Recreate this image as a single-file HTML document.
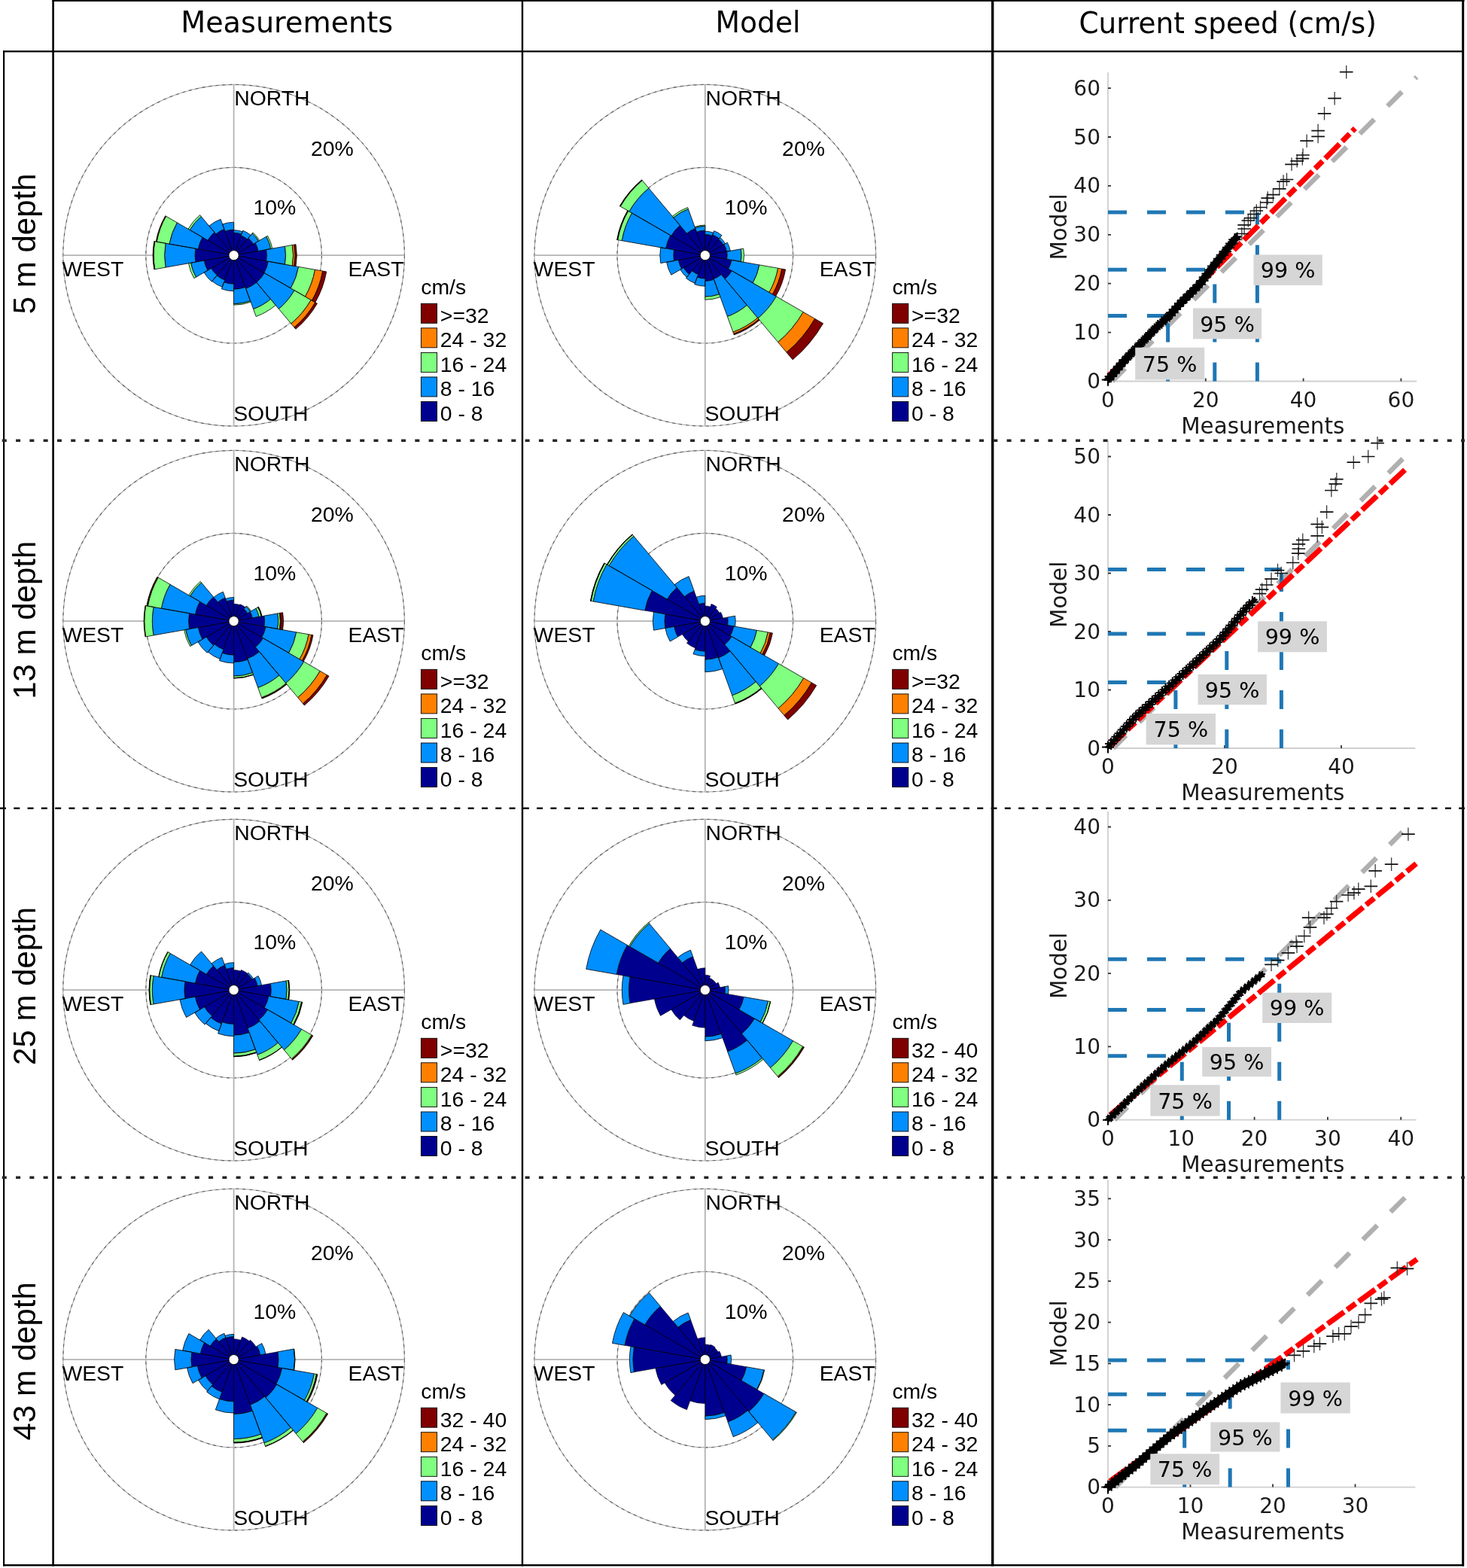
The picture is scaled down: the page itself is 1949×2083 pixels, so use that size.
<!DOCTYPE html>
<html><head><meta charset="utf-8"><title>Current roses and QQ plots</title>
<style>html,body{margin:0;padding:0;background:#fff;}svg{display:block;}</style></head><body>
<svg xmlns="http://www.w3.org/2000/svg" width="1949" height="2083" viewBox="0 0 1949 2083">
<rect width="1949" height="2083" fill="#fff"/>
<circle cx="310.6" cy="339.2" r="226.8" fill="none" stroke="#a6a6a6" stroke-width="1.1"/>
<circle cx="310.6" cy="339.2" r="226.8" fill="none" stroke="#5e5e5e" stroke-width="1.1" stroke-dasharray="4 5"/>
<circle cx="310.6" cy="339.2" r="116.8" fill="none" stroke="#a6a6a6" stroke-width="1.1"/>
<circle cx="310.6" cy="339.2" r="116.8" fill="none" stroke="#5e5e5e" stroke-width="1.1" stroke-dasharray="4 5"/>
<path d="M310.6 112.39999999999998V566.0M83.80000000000001 339.2H537.4000000000001" stroke="#b4b4b4" stroke-width="1.8" fill="none"/>
<path d="M310.60 339.20L310.60 309.20A30.00 30.00 0 0 1 320.86 311.01ZM310.60 339.20L320.18 312.89A28.00 28.00 0 0 1 328.60 317.75ZM310.60 339.20L329.88 316.22A30.00 30.00 0 0 1 336.58 324.20ZM310.60 339.20L339.18 322.70A33.00 33.00 0 0 1 343.10 333.47ZM310.60 339.20L353.73 331.59A43.80 43.80 0 0 1 353.73 346.81ZM310.60 339.20L356.39 347.27A46.50 46.50 0 0 1 350.87 362.45ZM310.60 339.20L351.30 362.70A47.00 47.00 0 0 1 340.81 375.20ZM310.60 339.20L340.81 375.20A47.00 47.00 0 0 1 326.67 383.37ZM310.60 339.20L325.99 381.49A45.00 45.00 0 0 1 310.60 384.20ZM310.60 339.20L310.60 377.20A38.00 38.00 0 0 1 297.60 374.91ZM310.60 339.20L298.63 372.09A35.00 35.00 0 0 1 288.10 366.01ZM310.60 339.20L288.36 365.71A34.60 34.60 0 0 1 280.64 356.50ZM310.60 339.20L275.96 359.20A40.00 40.00 0 0 1 271.21 346.15ZM310.60 339.20L259.88 348.14A51.50 51.50 0 0 1 259.88 330.26ZM310.60 339.20L263.33 330.86A48.00 48.00 0 0 1 269.03 315.20ZM310.60 339.20L275.96 319.20A40.00 40.00 0 0 1 284.89 308.56ZM310.60 339.20L286.82 310.86A37.00 37.00 0 0 1 297.95 304.43ZM310.60 339.20L298.97 307.25A34.00 34.00 0 0 1 310.60 305.20Z" fill="#00008f" stroke="#000" stroke-width="0.55" stroke-linejoin="round"/>
<path d="M310.60 309.20L310.60 305.70A33.50 33.50 0 0 1 322.06 307.72L320.86 311.01A30.00 30.00 0 0 0 310.60 309.20ZM320.18 312.89L322.57 306.31A35.00 35.00 0 0 1 333.10 312.39L328.60 317.75A28.00 28.00 0 0 0 320.18 312.89ZM329.88 316.22L335.03 310.09A38.00 38.00 0 0 1 343.51 320.20L336.58 324.20A30.00 30.00 0 0 0 329.88 316.22ZM339.18 322.70L353.90 314.20A50.00 50.00 0 0 1 359.84 330.52L343.10 333.47A33.00 33.00 0 0 0 339.18 322.70ZM353.73 331.59L378.55 327.22A69.00 69.00 0 0 1 378.55 351.18L353.73 346.81A43.80 43.80 0 0 0 353.73 331.59ZM356.39 347.27L396.67 354.38A87.40 87.40 0 0 1 386.29 382.90L350.87 362.45A46.50 46.50 0 0 0 356.39 347.27ZM351.30 362.70L391.14 385.70A93.00 93.00 0 0 1 370.38 410.44L340.81 375.20A47.00 47.00 0 0 0 351.30 362.70ZM340.81 375.20L359.45 397.42A76.00 76.00 0 0 1 336.59 410.62L326.67 383.37A47.00 47.00 0 0 0 340.81 375.20ZM325.99 381.49L332.66 399.81A64.50 64.50 0 0 1 310.60 403.70L310.60 384.20A45.00 45.00 0 0 0 325.99 381.49ZM310.60 377.20L310.60 386.70A47.50 47.50 0 0 1 294.35 383.84L297.60 374.91A38.00 38.00 0 0 0 310.60 377.20ZM298.63 372.09L295.28 381.30A44.80 44.80 0 0 1 281.80 373.52L288.10 366.01A35.00 35.00 0 0 0 298.63 372.09ZM288.36 365.71L281.29 374.13A45.60 45.60 0 0 1 271.11 362.00L280.64 356.50A34.60 34.60 0 0 0 288.36 365.71ZM275.96 359.20L260.37 368.20A58.00 58.00 0 0 1 253.48 349.27L271.21 346.15A40.00 40.00 0 0 0 275.96 359.20ZM259.88 348.14L220.00 355.18A92.00 92.00 0 0 1 220.00 323.22L259.88 330.26A51.50 51.50 0 0 0 259.88 348.14ZM263.33 330.86L224.92 324.09A87.00 87.00 0 0 1 235.26 295.70L269.03 315.20A48.00 48.00 0 0 0 263.33 330.86ZM275.96 319.20L252.14 305.45A67.50 67.50 0 0 1 267.21 287.49L284.89 308.56A40.00 40.00 0 0 0 275.96 319.20ZM286.82 310.86L277.82 300.13A51.00 51.00 0 0 1 293.16 291.28L297.95 304.43A37.00 37.00 0 0 0 286.82 310.86ZM298.97 307.25L295.55 297.85A44.00 44.00 0 0 1 310.60 295.20L310.60 305.20A34.00 34.00 0 0 0 298.97 307.25Z" fill="#008fff" stroke="#000" stroke-width="0.8" stroke-linejoin="round"/>
<path d="M335.03 310.09L335.99 308.94A39.50 39.50 0 0 1 344.81 319.45L343.51 320.20A38.00 38.00 0 0 0 335.03 310.09ZM353.90 314.20L355.63 313.20A52.00 52.00 0 0 1 361.81 330.17L359.84 330.52A50.00 50.00 0 0 0 353.90 314.20ZM378.55 327.22L388.40 325.48A79.00 79.00 0 0 1 388.40 352.92L378.55 351.18A69.00 69.00 0 0 0 378.55 327.22ZM396.67 354.38L418.53 358.23A109.60 109.60 0 0 1 405.52 394.00L386.29 382.90A87.40 87.40 0 0 0 396.67 354.38ZM391.14 385.70L413.22 398.45A118.50 118.50 0 0 1 386.77 429.98L370.38 410.44A93.00 93.00 0 0 0 391.14 385.70ZM359.45 397.42L366.20 405.46A86.50 86.50 0 0 1 340.18 420.48L336.59 410.62A76.00 76.00 0 0 0 359.45 397.42ZM332.66 399.81L333.17 401.22A66.00 66.00 0 0 1 310.60 405.20L310.60 403.70A64.50 64.50 0 0 0 332.66 399.81ZM260.37 368.20L257.77 369.70A61.00 61.00 0 0 1 250.53 349.79L253.48 349.27A58.00 58.00 0 0 0 260.37 368.20ZM220.00 355.18L205.72 357.69A106.50 106.50 0 0 1 205.72 320.71L220.00 323.22A92.00 92.00 0 0 0 220.00 355.18ZM224.92 324.09L208.18 321.14A104.00 104.00 0 0 1 220.53 287.20L235.26 295.70A87.00 87.00 0 0 0 224.92 324.09ZM252.14 305.45L249.98 304.20A70.00 70.00 0 0 1 265.60 285.58L267.21 287.49A67.50 67.50 0 0 0 252.14 305.45Z" fill="#80ff80" stroke="#000" stroke-width="0.8" stroke-linejoin="round"/>
<path d="M388.40 325.48L390.86 325.05A81.50 81.50 0 0 1 390.86 353.35L388.40 352.92A79.00 79.00 0 0 0 388.40 325.48ZM418.53 358.23L428.78 360.04A120.00 120.00 0 0 1 414.52 399.20L405.52 394.00A109.60 109.60 0 0 0 418.53 358.23ZM413.22 398.45L418.85 401.70A125.00 125.00 0 0 1 390.95 434.96L386.77 429.98A118.50 118.50 0 0 0 413.22 398.45Z" fill="#ff8000" stroke="#000" stroke-width="0.8" stroke-linejoin="round"/>
<path d="M390.86 325.05L393.03 324.67A83.70 83.70 0 0 1 393.03 353.73L390.86 353.35A81.50 81.50 0 0 0 390.86 325.05ZM428.78 360.04L433.70 360.91A125.00 125.00 0 0 1 418.85 401.70L414.52 399.20A120.00 120.00 0 0 0 428.78 360.04ZM418.85 401.70L421.45 403.20A128.00 128.00 0 0 1 392.88 437.25L390.95 434.96A125.00 125.00 0 0 0 418.85 401.70ZM205.72 357.69L204.73 357.87A107.50 107.50 0 0 1 204.73 320.53L205.72 320.71A106.50 106.50 0 0 0 205.72 357.69ZM208.18 321.14L207.20 320.97A105.00 105.00 0 0 1 219.67 286.70L220.53 287.20A104.00 104.00 0 0 0 208.18 321.14Z" fill="#800000" stroke="#000" stroke-width="0.8" stroke-linejoin="round"/>
<circle cx="310.6" cy="339.2" r="6.6" fill="#fff" stroke="#000" stroke-width="0.9"/>
<text x="311.2" y="140.3" font-family="Liberation Sans, Arial, sans-serif" font-size="28.4" fill="#000">NORTH</text>
<text x="310.2" y="559.4" font-family="Liberation Sans, Arial, sans-serif" font-size="28.4" fill="#000">SOUTH</text>
<text x="82.4" y="367.3" font-family="Liberation Sans, Arial, sans-serif" font-size="28.4" fill="#000">WEST</text>
<text x="462.5" y="367.2" font-family="Liberation Sans, Arial, sans-serif" font-size="28.4" fill="#000">EAST</text>
<text x="412.9" y="207.0" font-family="Liberation Sans, Arial, sans-serif" font-size="28.4" fill="#000">20%</text>
<text x="336.5" y="284.7" font-family="Liberation Sans, Arial, sans-serif" font-size="28.4" fill="#000">10%</text>
<text x="559.2" y="390.6" font-family="Liberation Sans, Arial, sans-serif" font-size="28.4" fill="#000">cm/s</text>
<rect x="559.4" y="403.3" width="21.2" height="26" fill="#800000" stroke="#000" stroke-width="0.9"/>
<text x="584.8" y="428.7" font-family="Liberation Sans, Arial, sans-serif" font-size="28.4" fill="#000">>=32</text>
<rect x="559.4" y="435.8" width="21.2" height="26" fill="#ff8000" stroke="#000" stroke-width="0.9"/>
<text x="584.8" y="461.2" font-family="Liberation Sans, Arial, sans-serif" font-size="28.4" fill="#000">24 - 32</text>
<rect x="559.4" y="468.4" width="21.2" height="26" fill="#80ff80" stroke="#000" stroke-width="0.9"/>
<text x="584.8" y="493.8" font-family="Liberation Sans, Arial, sans-serif" font-size="28.4" fill="#000">16 - 24</text>
<rect x="559.4" y="500.9" width="21.2" height="26" fill="#008fff" stroke="#000" stroke-width="0.9"/>
<text x="584.8" y="526.3" font-family="Liberation Sans, Arial, sans-serif" font-size="28.4" fill="#000">8 - 16</text>
<rect x="559.4" y="533.5" width="21.2" height="26" fill="#00008f" stroke="#000" stroke-width="0.9"/>
<text x="584.8" y="558.9" font-family="Liberation Sans, Arial, sans-serif" font-size="28.4" fill="#000">0 - 8</text>
<circle cx="310.6" cy="825.2" r="226.8" fill="none" stroke="#a6a6a6" stroke-width="1.1"/>
<circle cx="310.6" cy="825.2" r="226.8" fill="none" stroke="#5e5e5e" stroke-width="1.1" stroke-dasharray="4 5"/>
<circle cx="310.6" cy="825.2" r="116.8" fill="none" stroke="#a6a6a6" stroke-width="1.1"/>
<circle cx="310.6" cy="825.2" r="116.8" fill="none" stroke="#5e5e5e" stroke-width="1.1" stroke-dasharray="4 5"/>
<path d="M310.6 598.4000000000001V1052.0M83.80000000000001 825.2H537.4000000000001" stroke="#b4b4b4" stroke-width="1.8" fill="none"/>
<path d="M310.60 825.20L310.60 802.20A23.00 23.00 0 0 1 318.47 803.59ZM310.60 825.20L318.81 802.65A24.00 24.00 0 0 1 326.03 806.81ZM310.60 825.20L324.10 809.11A21.00 21.00 0 0 1 328.79 814.70ZM310.60 825.20L332.25 812.70A25.00 25.00 0 0 1 335.22 820.86ZM310.60 825.20L350.98 818.08A41.00 41.00 0 0 1 350.98 832.32ZM310.60 825.20L352.95 832.67A43.00 43.00 0 0 1 347.84 846.70ZM310.60 825.20L349.57 847.70A45.00 45.00 0 0 1 339.53 859.67ZM310.60 825.20L344.67 865.80A53.00 53.00 0 0 1 328.73 875.00ZM310.60 825.20L329.21 876.32A54.40 54.40 0 0 1 310.60 879.60ZM310.60 825.20L310.60 870.20A45.00 45.00 0 0 1 295.21 867.49ZM310.60 825.20L296.92 862.79A40.00 40.00 0 0 1 284.89 855.84ZM310.60 825.20L283.60 857.37A42.00 42.00 0 0 1 274.23 846.20ZM310.60 825.20L269.03 849.20A48.00 48.00 0 0 1 263.33 833.54ZM310.60 825.20L251.51 835.62A60.00 60.00 0 0 1 251.51 814.78ZM310.60 825.20L259.39 816.17A52.00 52.00 0 0 1 265.57 799.20ZM310.60 825.20L274.23 804.20A42.00 42.00 0 0 1 283.60 793.03ZM310.60 825.20L289.39 799.92A33.00 33.00 0 0 1 299.31 794.19ZM310.60 825.20L301.02 798.89A28.00 28.00 0 0 1 310.60 797.20Z" fill="#00008f" stroke="#000" stroke-width="0.55" stroke-linejoin="round"/>
<path d="M324.10 809.11L326.99 805.67A25.50 25.50 0 0 1 332.68 812.45L328.79 814.70A21.00 21.00 0 0 0 324.10 809.11ZM332.25 812.70L340.04 808.20A34.00 34.00 0 0 1 344.08 819.30L335.22 820.86A25.00 25.00 0 0 0 332.25 812.70ZM350.98 818.08L368.90 814.92A59.20 59.20 0 0 1 368.90 835.48L350.98 832.32A41.00 41.00 0 0 0 350.98 818.08ZM352.95 832.67L393.72 839.86A84.40 84.40 0 0 1 383.69 867.40L347.84 846.70A43.00 43.00 0 0 0 352.95 832.67ZM349.57 847.70L403.70 878.95A107.50 107.50 0 0 1 379.70 907.55L339.53 859.67A45.00 45.00 0 0 0 349.57 847.70ZM344.67 865.80L371.02 897.21A94.00 94.00 0 0 1 342.75 913.53L328.73 875.00A53.00 53.00 0 0 0 344.67 865.80ZM329.21 876.32L335.57 893.80A73.00 73.00 0 0 1 310.60 898.20L310.60 879.60A54.40 54.40 0 0 0 329.21 876.32ZM310.60 870.20L310.60 881.00A55.80 55.80 0 0 1 291.52 877.63L295.21 867.49A45.00 45.00 0 0 0 310.60 870.20ZM296.92 862.79L292.30 875.47A53.50 53.50 0 0 1 276.21 866.18L284.89 855.84A40.00 40.00 0 0 0 296.92 862.79ZM283.60 857.37L275.25 867.33A55.00 55.00 0 0 1 262.97 852.70L274.23 846.20A42.00 42.00 0 0 0 283.60 857.37ZM269.03 849.20L254.31 857.70A65.00 65.00 0 0 1 246.59 836.49L263.33 833.54A48.00 48.00 0 0 0 269.03 849.20ZM251.51 835.62L203.95 844.01A108.30 108.30 0 0 1 203.95 806.39L251.51 814.78A60.00 60.00 0 0 0 251.51 835.62ZM259.39 816.17L214.38 808.23A97.70 97.70 0 0 1 225.99 776.35L265.57 799.20A52.00 52.00 0 0 0 259.39 816.17ZM274.23 804.20L252.58 791.70A67.00 67.00 0 0 1 267.53 773.88L283.60 793.03A42.00 42.00 0 0 0 274.23 804.20ZM289.39 799.92L283.92 793.41A41.50 41.50 0 0 1 296.41 786.20L299.31 794.19A33.00 33.00 0 0 0 289.39 799.92ZM301.02 798.89L299.76 795.41A31.70 31.70 0 0 1 310.60 793.50L310.60 797.20A28.00 28.00 0 0 0 301.02 798.89Z" fill="#008fff" stroke="#000" stroke-width="0.8" stroke-linejoin="round"/>
<path d="M326.99 805.67L327.63 804.90A26.50 26.50 0 0 1 333.55 811.95L332.68 812.45A25.50 25.50 0 0 0 326.99 805.67ZM340.04 808.20L342.64 806.70A37.00 37.00 0 0 1 347.04 818.78L344.08 819.30A34.00 34.00 0 0 0 340.04 808.20ZM368.90 814.92L371.46 814.47A61.80 61.80 0 0 1 371.46 835.93L368.90 835.48A59.20 59.20 0 0 0 368.90 814.92ZM393.72 839.86L410.07 842.74A101.00 101.00 0 0 1 398.07 875.70L383.69 867.40A84.40 84.40 0 0 0 393.72 839.86ZM403.70 878.95L425.26 891.40A132.40 132.40 0 0 1 395.71 926.62L379.70 907.55A107.50 107.50 0 0 0 403.70 878.95ZM371.02 897.21L380.02 907.93A108.00 108.00 0 0 1 347.54 926.69L342.75 913.53A94.00 94.00 0 0 0 371.02 897.21ZM335.57 893.80L336.42 896.15A75.50 75.50 0 0 1 310.60 900.70L310.60 898.20A73.00 73.00 0 0 0 335.57 893.80ZM254.31 857.70L252.58 858.70A67.00 67.00 0 0 1 244.62 836.83L246.59 836.49A65.00 65.00 0 0 0 254.31 857.70ZM203.95 844.01L193.60 845.83A118.80 118.80 0 0 1 193.60 804.57L203.95 806.39A108.30 108.30 0 0 0 203.95 844.01ZM214.38 808.23L196.36 805.06A116.00 116.00 0 0 1 210.14 767.20L225.99 776.35A97.70 97.70 0 0 0 214.38 808.23ZM252.58 791.70L250.84 790.70A69.00 69.00 0 0 1 266.25 772.34L267.53 773.88A67.00 67.00 0 0 0 252.58 791.70Z" fill="#80ff80" stroke="#000" stroke-width="0.8" stroke-linejoin="round"/>
<path d="M342.64 806.70L343.08 806.45A37.50 37.50 0 0 1 347.53 818.69L347.04 818.78A37.00 37.00 0 0 0 342.64 806.70ZM371.46 814.47L372.25 814.33A62.60 62.60 0 0 1 372.25 836.07L371.46 835.93A61.80 61.80 0 0 0 371.46 814.47ZM410.07 842.74L414.00 843.43A105.00 105.00 0 0 1 401.53 877.70L398.07 875.70A101.00 101.00 0 0 0 410.07 842.74ZM425.26 891.40L434.44 896.70A143.00 143.00 0 0 1 402.52 934.74L395.71 926.62A132.40 132.40 0 0 0 425.26 891.40ZM380.02 907.93L380.66 908.70A109.00 109.00 0 0 1 347.88 927.63L347.54 926.69A108.00 108.00 0 0 0 380.02 907.93ZM336.42 896.15L336.59 896.62A76.00 76.00 0 0 1 310.60 901.20L310.60 900.70A75.50 75.50 0 0 0 336.42 896.15ZM193.60 845.83L192.92 845.95A119.50 119.50 0 0 1 192.92 804.45L193.60 804.57A118.80 118.80 0 0 0 193.60 845.83ZM196.36 805.06L195.38 804.88A117.00 117.00 0 0 1 209.28 766.70L210.14 767.20A116.00 116.00 0 0 0 196.36 805.06Z" fill="#ff8000" stroke="#000" stroke-width="0.8" stroke-linejoin="round"/>
<path d="M343.08 806.45L343.51 806.20A38.00 38.00 0 0 1 348.02 818.60L347.53 818.69A37.50 37.50 0 0 0 343.08 806.45ZM372.25 814.33L375.60 813.74A66.00 66.00 0 0 1 375.60 836.66L372.25 836.07A62.60 62.60 0 0 0 372.25 814.33ZM414.00 843.43L415.97 843.78A107.00 107.00 0 0 1 403.26 878.70L401.53 877.70A105.00 105.00 0 0 0 414.00 843.43ZM434.44 896.70L437.04 898.20A146.00 146.00 0 0 1 404.45 937.04L402.52 934.74A143.00 143.00 0 0 0 434.44 896.70ZM380.66 908.70L380.99 909.08A109.50 109.50 0 0 1 348.05 928.10L347.88 927.63A109.00 109.00 0 0 0 380.66 908.70ZM195.38 804.88L194.89 804.80A117.50 117.50 0 0 1 208.84 766.45L209.28 766.70A117.00 117.00 0 0 0 195.38 804.88Z" fill="#800000" stroke="#000" stroke-width="0.8" stroke-linejoin="round"/>
<circle cx="310.6" cy="825.2" r="6.6" fill="#fff" stroke="#000" stroke-width="0.9"/>
<text x="311.2" y="626.3" font-family="Liberation Sans, Arial, sans-serif" font-size="28.4" fill="#000">NORTH</text>
<text x="310.2" y="1045.4" font-family="Liberation Sans, Arial, sans-serif" font-size="28.4" fill="#000">SOUTH</text>
<text x="82.4" y="853.3" font-family="Liberation Sans, Arial, sans-serif" font-size="28.4" fill="#000">WEST</text>
<text x="462.5" y="853.2" font-family="Liberation Sans, Arial, sans-serif" font-size="28.4" fill="#000">EAST</text>
<text x="412.9" y="693.0" font-family="Liberation Sans, Arial, sans-serif" font-size="28.4" fill="#000">20%</text>
<text x="336.5" y="770.7" font-family="Liberation Sans, Arial, sans-serif" font-size="28.4" fill="#000">10%</text>
<text x="559.2" y="876.6" font-family="Liberation Sans, Arial, sans-serif" font-size="28.4" fill="#000">cm/s</text>
<rect x="559.4" y="889.3" width="21.2" height="26" fill="#800000" stroke="#000" stroke-width="0.9"/>
<text x="584.8" y="914.7" font-family="Liberation Sans, Arial, sans-serif" font-size="28.4" fill="#000">>=32</text>
<rect x="559.4" y="921.9" width="21.2" height="26" fill="#ff8000" stroke="#000" stroke-width="0.9"/>
<text x="584.8" y="947.2" font-family="Liberation Sans, Arial, sans-serif" font-size="28.4" fill="#000">24 - 32</text>
<rect x="559.4" y="954.4" width="21.2" height="26" fill="#80ff80" stroke="#000" stroke-width="0.9"/>
<text x="584.8" y="979.8" font-family="Liberation Sans, Arial, sans-serif" font-size="28.4" fill="#000">16 - 24</text>
<rect x="559.4" y="987.0" width="21.2" height="26" fill="#008fff" stroke="#000" stroke-width="0.9"/>
<text x="584.8" y="1012.4" font-family="Liberation Sans, Arial, sans-serif" font-size="28.4" fill="#000">8 - 16</text>
<rect x="559.4" y="1019.5" width="21.2" height="26" fill="#00008f" stroke="#000" stroke-width="0.9"/>
<text x="584.8" y="1044.9" font-family="Liberation Sans, Arial, sans-serif" font-size="28.4" fill="#000">0 - 8</text>
<circle cx="310.6" cy="1315.2" r="226.8" fill="none" stroke="#a6a6a6" stroke-width="1.1"/>
<circle cx="310.6" cy="1315.2" r="226.8" fill="none" stroke="#5e5e5e" stroke-width="1.1" stroke-dasharray="4 5"/>
<circle cx="310.6" cy="1315.2" r="116.8" fill="none" stroke="#a6a6a6" stroke-width="1.1"/>
<circle cx="310.6" cy="1315.2" r="116.8" fill="none" stroke="#5e5e5e" stroke-width="1.1" stroke-dasharray="4 5"/>
<path d="M310.6 1088.4V1542.0M83.80000000000001 1315.2H537.4000000000001" stroke="#b4b4b4" stroke-width="1.8" fill="none"/>
<path d="M310.60 1315.20L310.60 1288.50A26.70 26.70 0 0 1 319.73 1290.11ZM310.60 1315.20L320.35 1288.42A28.50 28.50 0 0 1 328.92 1293.37ZM310.60 1315.20L328.60 1293.75A28.00 28.00 0 0 1 334.85 1301.20ZM310.60 1315.20L338.31 1299.20A32.00 32.00 0 0 1 342.11 1309.64ZM310.60 1315.20L359.45 1306.59A49.60 49.60 0 0 1 359.45 1323.81ZM310.60 1315.20L356.89 1323.36A47.00 47.00 0 0 1 351.30 1338.70ZM310.60 1315.20L355.63 1341.20A52.00 52.00 0 0 1 344.02 1355.03ZM310.60 1315.20L345.31 1356.57A54.00 54.00 0 0 1 329.07 1365.94ZM310.60 1315.20L331.12 1371.58A60.00 60.00 0 0 1 310.60 1375.20ZM310.60 1315.20L310.60 1360.50A45.30 45.30 0 0 1 295.11 1357.77ZM310.60 1315.20L294.29 1360.02A47.70 47.70 0 0 1 279.94 1351.74ZM310.60 1315.20L281.67 1349.67A45.00 45.00 0 0 1 271.63 1337.70ZM310.60 1315.20L265.57 1341.20A52.00 52.00 0 0 1 259.39 1324.23ZM310.60 1315.20L245.90 1326.61A65.70 65.70 0 0 1 245.90 1303.79ZM310.60 1315.20L259.39 1306.17A52.00 52.00 0 0 1 265.57 1289.20ZM310.60 1315.20L274.23 1294.20A42.00 42.00 0 0 1 283.60 1283.03ZM310.60 1315.20L288.10 1288.39A35.00 35.00 0 0 1 298.63 1282.31ZM310.60 1315.20L300.51 1287.48A29.50 29.50 0 0 1 310.60 1285.70Z" fill="#00008f" stroke="#000" stroke-width="0.55" stroke-linejoin="round"/>
<path d="M328.60 1293.75L329.88 1292.22A30.00 30.00 0 0 1 336.58 1300.20L334.85 1301.20A28.00 28.00 0 0 0 328.60 1293.75ZM338.31 1299.20L343.08 1296.45A37.50 37.50 0 0 1 347.53 1308.69L342.11 1309.64A32.00 32.00 0 0 0 338.31 1299.20ZM359.45 1306.59L380.13 1302.94A70.60 70.60 0 0 1 380.13 1327.46L359.45 1323.81A49.60 49.60 0 0 0 359.45 1306.59ZM356.89 1323.36L397.26 1330.48A88.00 88.00 0 0 1 386.81 1359.20L351.30 1338.70A47.00 47.00 0 0 0 356.89 1323.36ZM355.63 1341.20L400.67 1367.20A104.00 104.00 0 0 1 377.45 1394.87L344.02 1355.03A52.00 52.00 0 0 0 355.63 1341.20ZM345.31 1356.57L369.48 1385.37A91.60 91.60 0 0 1 341.93 1401.28L329.07 1365.94A54.00 54.00 0 0 0 345.31 1356.57ZM331.12 1371.58L339.33 1394.13A84.00 84.00 0 0 1 310.60 1399.20L310.60 1375.20A60.00 60.00 0 0 0 331.12 1371.58ZM310.60 1360.50L310.60 1376.60A61.40 61.40 0 0 1 289.60 1372.90L295.11 1357.77A45.30 45.30 0 0 0 310.60 1360.50ZM294.29 1360.02L290.76 1369.70A58.00 58.00 0 0 1 273.32 1359.63L279.94 1351.74A47.70 47.70 0 0 0 294.29 1360.02ZM281.67 1349.67L272.03 1361.16A60.00 60.00 0 0 1 258.64 1345.20L271.63 1337.70A45.00 45.00 0 0 0 281.67 1349.67ZM265.57 1341.20L247.55 1351.60A72.80 72.80 0 0 1 238.91 1327.84L259.39 1324.23A52.00 52.00 0 0 0 265.57 1341.20ZM245.90 1326.61L203.95 1334.01A108.30 108.30 0 0 1 203.95 1296.39L245.90 1303.79A65.70 65.70 0 0 0 245.90 1326.61ZM259.39 1306.17L214.58 1298.27A97.50 97.50 0 0 1 226.16 1266.45L265.57 1289.20A52.00 52.00 0 0 0 259.39 1306.17ZM274.23 1294.20L252.58 1281.70A67.00 67.00 0 0 1 267.53 1263.88L283.60 1283.03A42.00 42.00 0 0 0 274.23 1294.20ZM288.10 1288.39L281.03 1279.96A46.00 46.00 0 0 1 294.87 1271.97L298.63 1282.31A35.00 35.00 0 0 0 288.10 1288.39ZM300.51 1287.48L298.12 1280.90A36.50 36.50 0 0 1 310.60 1278.70L310.60 1285.70A29.50 29.50 0 0 0 300.51 1287.48Z" fill="#008fff" stroke="#000" stroke-width="0.8" stroke-linejoin="round"/>
<path d="M380.13 1302.94L382.88 1302.45A73.40 73.40 0 0 1 382.88 1327.95L380.13 1327.46A70.60 70.60 0 0 0 380.13 1302.94ZM397.26 1330.48L400.71 1331.09A91.50 91.50 0 0 1 389.84 1360.95L386.81 1359.20A88.00 88.00 0 0 0 397.26 1330.48ZM400.67 1367.20L414.09 1374.95A119.50 119.50 0 0 1 387.41 1406.74L377.45 1394.87A104.00 104.00 0 0 0 400.67 1367.20ZM369.48 1385.37L374.24 1391.04A99.00 99.00 0 0 1 344.46 1408.23L341.93 1401.28A91.60 91.60 0 0 0 369.48 1385.37ZM339.33 1394.13L340.70 1397.89A88.00 88.00 0 0 1 310.60 1403.20L310.60 1399.20A84.00 84.00 0 0 0 339.33 1394.13ZM203.95 1334.01L200.50 1334.61A111.80 111.80 0 0 1 200.50 1295.79L203.95 1296.39A108.30 108.30 0 0 0 203.95 1334.01ZM214.58 1298.27L211.13 1297.66A101.00 101.00 0 0 1 223.13 1264.70L226.16 1266.45A97.50 97.50 0 0 0 214.58 1298.27Z" fill="#80ff80" stroke="#000" stroke-width="0.8" stroke-linejoin="round"/>
<path d="M382.88 1302.45L383.48 1302.35A74.00 74.00 0 0 1 383.48 1328.05L382.88 1327.95A73.40 73.40 0 0 0 382.88 1302.45ZM400.71 1331.09L401.20 1331.18A92.00 92.00 0 0 1 390.27 1361.20L389.84 1360.95A91.50 91.50 0 0 0 400.71 1331.09ZM414.09 1374.95L414.96 1375.45A120.50 120.50 0 0 1 388.06 1407.51L387.41 1406.74A119.50 119.50 0 0 0 414.09 1374.95ZM374.24 1391.04L374.49 1391.34A99.40 99.40 0 0 1 344.60 1408.61L344.46 1408.23A99.00 99.00 0 0 0 374.24 1391.04ZM340.70 1397.89L340.87 1398.36A88.50 88.50 0 0 1 310.60 1403.70L310.60 1403.20A88.00 88.00 0 0 0 340.70 1397.89ZM200.50 1334.61L200.01 1334.70A112.30 112.30 0 0 1 200.01 1295.70L200.50 1295.79A111.80 111.80 0 0 0 200.50 1334.61ZM211.13 1297.66L210.64 1297.57A101.50 101.50 0 0 1 222.70 1264.45L223.13 1264.70A101.00 101.00 0 0 0 211.13 1297.66Z" fill="#ff8000" stroke="#000" stroke-width="0.8" stroke-linejoin="round"/>
<path d="M383.48 1302.35L383.57 1302.33A74.10 74.10 0 0 1 383.57 1328.07L383.48 1328.05A74.00 74.00 0 0 0 383.48 1302.35ZM401.20 1331.18L401.79 1331.28A92.60 92.60 0 0 1 390.79 1361.50L390.27 1361.20A92.00 92.00 0 0 0 401.20 1331.18ZM414.96 1375.45L415.74 1375.90A121.40 121.40 0 0 1 388.63 1408.20L388.06 1407.51A120.50 120.50 0 0 0 414.96 1375.45ZM340.87 1398.36L340.90 1398.46A88.60 88.60 0 0 1 310.60 1403.80L310.60 1403.70A88.50 88.50 0 0 0 340.87 1398.36ZM200.01 1334.70L199.81 1334.74A112.50 112.50 0 0 1 199.81 1295.66L200.01 1295.70A112.30 112.30 0 0 0 200.01 1334.70Z" fill="#800000" stroke="#000" stroke-width="0.8" stroke-linejoin="round"/>
<circle cx="310.6" cy="1315.2" r="6.6" fill="#fff" stroke="#000" stroke-width="0.9"/>
<text x="311.2" y="1116.3" font-family="Liberation Sans, Arial, sans-serif" font-size="28.4" fill="#000">NORTH</text>
<text x="310.2" y="1535.4" font-family="Liberation Sans, Arial, sans-serif" font-size="28.4" fill="#000">SOUTH</text>
<text x="82.4" y="1343.3" font-family="Liberation Sans, Arial, sans-serif" font-size="28.4" fill="#000">WEST</text>
<text x="462.5" y="1343.2" font-family="Liberation Sans, Arial, sans-serif" font-size="28.4" fill="#000">EAST</text>
<text x="412.9" y="1183.0" font-family="Liberation Sans, Arial, sans-serif" font-size="28.4" fill="#000">20%</text>
<text x="336.5" y="1260.7" font-family="Liberation Sans, Arial, sans-serif" font-size="28.4" fill="#000">10%</text>
<text x="559.2" y="1366.6" font-family="Liberation Sans, Arial, sans-serif" font-size="28.4" fill="#000">cm/s</text>
<rect x="559.4" y="1379.3" width="21.2" height="26" fill="#800000" stroke="#000" stroke-width="0.9"/>
<text x="584.8" y="1404.7" font-family="Liberation Sans, Arial, sans-serif" font-size="28.4" fill="#000">>=32</text>
<rect x="559.4" y="1411.8" width="21.2" height="26" fill="#ff8000" stroke="#000" stroke-width="0.9"/>
<text x="584.8" y="1437.2" font-family="Liberation Sans, Arial, sans-serif" font-size="28.4" fill="#000">24 - 32</text>
<rect x="559.4" y="1444.4" width="21.2" height="26" fill="#80ff80" stroke="#000" stroke-width="0.9"/>
<text x="584.8" y="1469.8" font-family="Liberation Sans, Arial, sans-serif" font-size="28.4" fill="#000">16 - 24</text>
<rect x="559.4" y="1477.0" width="21.2" height="26" fill="#008fff" stroke="#000" stroke-width="0.9"/>
<text x="584.8" y="1502.4" font-family="Liberation Sans, Arial, sans-serif" font-size="28.4" fill="#000">8 - 16</text>
<rect x="559.4" y="1509.5" width="21.2" height="26" fill="#00008f" stroke="#000" stroke-width="0.9"/>
<text x="584.8" y="1534.9" font-family="Liberation Sans, Arial, sans-serif" font-size="28.4" fill="#000">0 - 8</text>
<circle cx="310.6" cy="1806.1" r="226.8" fill="none" stroke="#a6a6a6" stroke-width="1.1"/>
<circle cx="310.6" cy="1806.1" r="226.8" fill="none" stroke="#5e5e5e" stroke-width="1.1" stroke-dasharray="4 5"/>
<circle cx="310.6" cy="1806.1" r="116.8" fill="none" stroke="#a6a6a6" stroke-width="1.1"/>
<circle cx="310.6" cy="1806.1" r="116.8" fill="none" stroke="#5e5e5e" stroke-width="1.1" stroke-dasharray="4 5"/>
<path d="M310.6 1579.3V2032.8999999999999M83.80000000000001 1806.1H537.4000000000001" stroke="#b4b4b4" stroke-width="1.8" fill="none"/>
<path d="M310.60 1806.10L310.60 1778.70A27.40 27.40 0 0 1 319.97 1780.35ZM310.60 1806.10L321.54 1776.03A32.00 32.00 0 0 1 331.17 1781.59ZM310.60 1806.10L332.45 1780.05A34.00 34.00 0 0 1 340.04 1789.10ZM310.60 1806.10L341.52 1788.25A35.70 35.70 0 0 1 345.76 1799.90ZM310.60 1806.10L369.10 1795.79A59.40 59.40 0 0 1 369.10 1816.41ZM310.60 1806.10L374.61 1817.39A65.00 65.00 0 0 1 366.89 1838.60ZM310.60 1806.10L367.76 1839.10A66.00 66.00 0 0 1 353.02 1856.66ZM310.60 1806.10L351.74 1855.13A64.00 64.00 0 0 1 332.49 1866.24ZM310.60 1806.10L335.40 1874.23A72.50 72.50 0 0 1 310.60 1878.60ZM310.60 1806.10L310.60 1861.90A55.80 55.80 0 0 1 291.52 1858.53ZM310.60 1806.10L294.87 1849.33A46.00 46.00 0 0 1 281.03 1841.34ZM310.60 1806.10L282.64 1839.42A43.50 43.50 0 0 1 272.93 1827.85ZM310.60 1806.10L268.16 1830.60A49.00 49.00 0 0 1 262.34 1814.61ZM310.60 1806.10L254.86 1815.93A56.60 56.60 0 0 1 254.86 1796.27ZM310.60 1806.10L266.28 1798.29A45.00 45.00 0 0 1 271.63 1783.60ZM310.60 1806.10L279.42 1788.10A36.00 36.00 0 0 1 287.46 1778.52ZM310.60 1806.10L290.67 1782.35A31.00 31.00 0 0 1 300.00 1776.97ZM310.60 1806.10L300.17 1777.44A30.50 30.50 0 0 1 310.60 1775.60Z" fill="#00008f" stroke="#000" stroke-width="0.55" stroke-linejoin="round"/>
<path d="M341.52 1788.25L347.84 1784.60A43.00 43.00 0 0 1 352.95 1798.63L345.76 1799.90A35.70 35.70 0 0 0 341.52 1788.25ZM369.10 1795.79L390.37 1792.03A81.00 81.00 0 0 1 390.37 1820.17L369.10 1816.41A59.40 59.40 0 0 0 369.10 1795.79ZM374.61 1817.39L417.45 1824.94A108.50 108.50 0 0 1 404.56 1860.35L366.89 1838.60A65.00 65.00 0 0 0 374.61 1817.39ZM367.76 1839.10L421.88 1870.35A128.50 128.50 0 0 1 393.20 1904.54L353.02 1856.66A66.00 66.00 0 0 0 367.76 1839.10ZM351.74 1855.13L386.45 1896.49A118.00 118.00 0 0 1 350.96 1916.98L332.49 1866.24A64.00 64.00 0 0 0 351.74 1855.13ZM335.40 1874.23L346.68 1905.24A105.50 105.50 0 0 1 310.60 1911.60L310.60 1878.60A72.50 72.50 0 0 0 335.40 1874.23ZM310.60 1861.90L310.60 1877.10A71.00 71.00 0 0 1 286.32 1872.82L291.52 1858.53A55.80 55.80 0 0 0 310.60 1861.90ZM294.87 1849.33L291.45 1858.72A56.00 56.00 0 0 1 274.60 1849.00L281.03 1841.34A46.00 46.00 0 0 0 294.87 1849.33ZM282.64 1839.42L275.57 1847.85A54.50 54.50 0 0 1 263.40 1833.35L272.93 1827.85A43.50 43.50 0 0 0 282.64 1839.42ZM268.16 1830.60L256.04 1837.60A63.00 63.00 0 0 1 248.56 1817.04L262.34 1814.61A49.00 49.00 0 0 0 268.16 1830.60ZM254.86 1815.93L232.80 1819.82A79.00 79.00 0 0 1 232.80 1792.38L254.86 1796.27A56.60 56.60 0 0 0 254.86 1815.93ZM266.28 1798.29L242.65 1794.12A69.00 69.00 0 0 1 250.84 1771.60L271.63 1783.60A45.00 45.00 0 0 0 266.28 1798.29ZM279.42 1788.10L265.57 1780.10A52.00 52.00 0 0 1 277.18 1766.27L287.46 1778.52A36.00 36.00 0 0 0 279.42 1788.10ZM290.67 1782.35L286.82 1777.76A37.00 37.00 0 0 1 297.95 1771.33L300.00 1776.97A31.00 31.00 0 0 0 290.67 1782.35ZM300.17 1777.44L299.07 1774.43A33.70 33.70 0 0 1 310.60 1772.40L310.60 1775.60A30.50 30.50 0 0 0 300.17 1777.44Z" fill="#008fff" stroke="#000" stroke-width="0.8" stroke-linejoin="round"/>
<path d="M390.37 1792.03L390.86 1791.95A81.50 81.50 0 0 1 390.86 1820.25L390.37 1820.17A81.00 81.00 0 0 0 390.37 1792.03ZM417.45 1824.94L420.41 1825.46A111.50 111.50 0 0 1 407.16 1861.85L404.56 1860.35A108.50 108.50 0 0 0 417.45 1824.94ZM421.88 1870.35L434.01 1877.35A142.50 142.50 0 0 1 402.20 1915.26L393.20 1904.54A128.50 128.50 0 0 0 421.88 1870.35ZM386.45 1896.49L389.34 1899.94A122.50 122.50 0 0 1 352.50 1921.21L350.96 1916.98A118.00 118.00 0 0 0 386.45 1896.49ZM346.68 1905.24L348.22 1909.47A110.00 110.00 0 0 1 310.60 1916.10L310.60 1911.60A105.50 105.50 0 0 0 346.68 1905.24Z" fill="#80ff80" stroke="#000" stroke-width="0.8" stroke-linejoin="round"/>
<path d="M420.41 1825.46L421.39 1825.64A112.50 112.50 0 0 1 408.03 1862.35L407.16 1861.85A111.50 111.50 0 0 0 420.41 1825.46ZM434.01 1877.35L434.87 1877.85A143.50 143.50 0 0 1 402.84 1916.03L402.20 1915.26A142.50 142.50 0 0 0 434.01 1877.35ZM389.34 1899.94L389.66 1900.32A123.00 123.00 0 0 1 352.67 1921.68L352.50 1921.21A122.50 122.50 0 0 0 389.34 1899.94ZM348.22 1909.47L348.39 1909.94A110.50 110.50 0 0 1 310.60 1916.60L310.60 1916.10A110.00 110.00 0 0 0 348.22 1909.47Z" fill="#ff8000" stroke="#000" stroke-width="0.8" stroke-linejoin="round"/>
<path d="M421.39 1825.64L421.88 1825.72A113.00 113.00 0 0 1 408.46 1862.60L408.03 1862.35A112.50 112.50 0 0 0 421.39 1825.64ZM434.87 1877.85L435.65 1878.30A144.40 144.40 0 0 1 403.42 1916.72L402.84 1916.03A143.50 143.50 0 0 0 434.87 1877.85ZM348.39 1909.94L348.56 1910.41A111.00 111.00 0 0 1 310.60 1917.10L310.60 1916.60A110.50 110.50 0 0 0 348.39 1909.94Z" fill="#800000" stroke="#000" stroke-width="0.8" stroke-linejoin="round"/>
<circle cx="310.6" cy="1806.1" r="6.6" fill="#fff" stroke="#000" stroke-width="0.9"/>
<text x="311.2" y="1607.2" font-family="Liberation Sans, Arial, sans-serif" font-size="28.4" fill="#000">NORTH</text>
<text x="310.2" y="2026.3" font-family="Liberation Sans, Arial, sans-serif" font-size="28.4" fill="#000">SOUTH</text>
<text x="82.4" y="1834.2" font-family="Liberation Sans, Arial, sans-serif" font-size="28.4" fill="#000">WEST</text>
<text x="462.5" y="1834.1" font-family="Liberation Sans, Arial, sans-serif" font-size="28.4" fill="#000">EAST</text>
<text x="412.9" y="1673.9" font-family="Liberation Sans, Arial, sans-serif" font-size="28.4" fill="#000">20%</text>
<text x="336.5" y="1751.6" font-family="Liberation Sans, Arial, sans-serif" font-size="28.4" fill="#000">10%</text>
<text x="559.2" y="1857.5" font-family="Liberation Sans, Arial, sans-serif" font-size="28.4" fill="#000">cm/s</text>
<rect x="559.4" y="1870.2" width="21.2" height="26" fill="#800000" stroke="#000" stroke-width="0.9"/>
<text x="584.8" y="1895.6" font-family="Liberation Sans, Arial, sans-serif" font-size="28.4" fill="#000">32 - 40</text>
<rect x="559.4" y="1902.7" width="21.2" height="26" fill="#ff8000" stroke="#000" stroke-width="0.9"/>
<text x="584.8" y="1928.1" font-family="Liberation Sans, Arial, sans-serif" font-size="28.4" fill="#000">24 - 32</text>
<rect x="559.4" y="1935.3" width="21.2" height="26" fill="#80ff80" stroke="#000" stroke-width="0.9"/>
<text x="584.8" y="1960.7" font-family="Liberation Sans, Arial, sans-serif" font-size="28.4" fill="#000">16 - 24</text>
<rect x="559.4" y="1967.8" width="21.2" height="26" fill="#008fff" stroke="#000" stroke-width="0.9"/>
<text x="584.8" y="1993.2" font-family="Liberation Sans, Arial, sans-serif" font-size="28.4" fill="#000">8 - 16</text>
<rect x="559.4" y="2000.4" width="21.2" height="26" fill="#00008f" stroke="#000" stroke-width="0.9"/>
<text x="584.8" y="2025.8" font-family="Liberation Sans, Arial, sans-serif" font-size="28.4" fill="#000">0 - 8</text>
<circle cx="936.8" cy="339.2" r="226.8" fill="none" stroke="#a6a6a6" stroke-width="1.1"/>
<circle cx="936.8" cy="339.2" r="226.8" fill="none" stroke="#5e5e5e" stroke-width="1.1" stroke-dasharray="4 5"/>
<circle cx="936.8" cy="339.2" r="116.8" fill="none" stroke="#a6a6a6" stroke-width="1.1"/>
<circle cx="936.8" cy="339.2" r="116.8" fill="none" stroke="#5e5e5e" stroke-width="1.1" stroke-dasharray="4 5"/>
<path d="M936.8 112.39999999999998V566.0M710.0 339.2H1163.6" stroke="#b4b4b4" stroke-width="1.8" fill="none"/>
<path d="M936.80 339.20L936.80 311.50A27.70 27.70 0 0 1 946.27 313.17ZM936.80 339.20L946.72 311.95A29.00 29.00 0 0 1 955.44 316.98ZM936.80 339.20L954.80 317.75A28.00 28.00 0 0 1 961.05 325.20ZM936.80 339.20L961.91 324.70A29.00 29.00 0 0 1 965.36 334.16ZM936.80 339.20L965.65 334.11A29.30 29.30 0 0 1 965.65 344.29ZM936.80 339.20L971.96 345.40A35.70 35.70 0 0 1 967.72 357.05ZM936.80 339.20L972.31 359.70A41.00 41.00 0 0 1 963.15 370.61ZM936.80 339.20L958.20 364.71A33.30 33.30 0 0 1 948.19 370.49ZM936.80 339.20L948.50 371.34A34.20 34.20 0 0 1 936.80 373.40ZM936.80 339.20L936.80 370.00A30.80 30.80 0 0 1 926.27 368.14ZM936.80 339.20L927.57 364.57A27.00 27.00 0 0 1 919.44 359.88ZM936.80 339.20L915.59 364.48A33.00 33.00 0 0 1 908.22 355.70ZM936.80 339.20L905.62 357.20A36.00 36.00 0 0 1 901.35 345.45ZM936.80 339.20L895.44 346.49A42.00 42.00 0 0 1 895.44 331.91ZM936.80 339.20L884.61 330.00A53.00 53.00 0 0 1 890.90 312.70ZM936.80 339.20L891.77 313.20A52.00 52.00 0 0 1 903.38 299.37ZM936.80 339.20L912.37 310.09A38.00 38.00 0 0 1 923.80 303.49ZM936.80 339.20L925.51 308.19A33.00 33.00 0 0 1 936.80 306.20Z" fill="#00008f" stroke="#000" stroke-width="0.55" stroke-linejoin="round"/>
<path d="M936.80 311.50L936.80 307.20A32.00 32.00 0 0 1 947.74 309.13L946.27 313.17A27.70 27.70 0 0 0 936.80 311.50ZM946.72 311.95L948.63 306.69A34.60 34.60 0 0 1 959.04 312.69L955.44 316.98A29.00 29.00 0 0 0 946.72 311.95ZM954.80 317.75L956.73 315.45A31.00 31.00 0 0 1 963.65 323.70L961.05 325.20A28.00 28.00 0 0 0 954.80 317.75ZM961.91 324.70L966.24 322.20A34.00 34.00 0 0 1 970.28 333.30L965.36 334.16A29.00 29.00 0 0 0 961.91 324.70ZM965.65 334.11L984.37 330.81A48.30 48.30 0 0 1 984.37 347.59L965.65 344.29A29.30 29.30 0 0 0 965.65 334.11ZM971.96 345.40L1008.89 351.91A73.20 73.20 0 0 1 1000.19 375.80L967.72 357.05A35.70 35.70 0 0 0 971.96 345.40ZM972.31 359.70L1031.37 393.80A109.20 109.20 0 0 1 1006.99 422.85L963.15 370.61A41.00 41.00 0 0 0 972.31 359.70ZM958.20 364.71L992.40 405.46A86.50 86.50 0 0 1 966.38 420.48L948.19 370.49A33.30 33.30 0 0 0 958.20 364.71ZM948.50 371.34L955.61 390.88A55.00 55.00 0 0 1 936.80 394.20L936.80 373.40A34.20 34.20 0 0 0 948.50 371.34ZM936.80 370.00L936.80 380.20A41.00 41.00 0 0 1 922.78 377.73L926.27 368.14A30.80 30.80 0 0 0 936.80 370.00ZM927.57 364.57L923.29 376.32A39.50 39.50 0 0 1 911.41 369.46L919.44 359.88A27.00 27.00 0 0 0 927.57 364.57ZM915.59 364.48L912.37 368.31A38.00 38.00 0 0 1 903.89 358.20L908.22 355.70A33.00 33.00 0 0 0 915.59 364.48ZM905.62 357.20L891.77 365.20A52.00 52.00 0 0 1 885.59 348.23L901.35 345.45A36.00 36.00 0 0 0 905.62 357.20ZM895.44 346.49L877.71 349.62A60.00 60.00 0 0 1 877.71 328.78L895.44 331.91A42.00 42.00 0 0 0 895.44 346.49ZM884.61 330.00L826.11 319.68A112.40 112.40 0 0 1 839.46 283.00L890.90 312.70A53.00 53.00 0 0 0 884.61 330.00ZM891.77 313.20L835.82 280.90A116.60 116.60 0 0 1 861.85 249.88L903.38 299.37A52.00 52.00 0 0 0 891.77 313.20ZM912.37 310.09L894.70 289.02A65.50 65.50 0 0 1 914.40 277.65L923.80 303.49A38.00 38.00 0 0 0 912.37 310.09ZM925.51 308.19L923.46 302.55A39.00 39.00 0 0 1 936.80 300.20L936.80 306.20A33.00 33.00 0 0 0 925.51 308.19Z" fill="#008fff" stroke="#000" stroke-width="0.8" stroke-linejoin="round"/>
<path d="M984.37 330.81L987.71 330.22A51.70 51.70 0 0 1 987.71 348.18L984.37 347.59A48.30 48.30 0 0 0 984.37 330.81ZM1008.89 351.91L1033.61 356.27A98.30 98.30 0 0 1 1021.93 388.35L1000.19 375.80A73.20 73.20 0 0 0 1008.89 351.91ZM1031.37 393.80L1067.22 414.50A150.60 150.60 0 0 1 1033.60 454.57L1006.99 422.85A109.20 109.20 0 0 0 1031.37 393.80ZM992.40 405.46L1006.54 422.32A108.50 108.50 0 0 1 973.91 441.16L966.38 420.48A86.50 86.50 0 0 0 992.40 405.46ZM955.61 390.88L956.98 394.64A59.00 59.00 0 0 1 936.80 398.20L936.80 394.20A55.00 55.00 0 0 0 955.61 390.88ZM826.11 319.68L820.59 318.71A118.00 118.00 0 0 1 834.61 280.20L839.46 283.00A112.40 112.40 0 0 0 826.11 319.68ZM835.82 280.90L824.22 274.20A130.00 130.00 0 0 1 853.24 239.61L861.85 249.88A116.60 116.60 0 0 0 835.82 280.90ZM894.70 289.02L893.28 287.34A67.70 67.70 0 0 1 913.65 275.58L914.40 277.65A65.50 65.50 0 0 0 894.70 289.02ZM923.46 302.55L923.05 301.42A40.20 40.20 0 0 1 936.80 299.00L936.80 300.20A39.00 39.00 0 0 0 923.46 302.55Z" fill="#80ff80" stroke="#000" stroke-width="0.8" stroke-linejoin="round"/>
<path d="M1033.61 356.27L1038.73 357.17A103.50 103.50 0 0 1 1026.43 390.95L1021.93 388.35A98.30 98.30 0 0 0 1033.61 356.27ZM1067.22 414.50L1082.64 423.40A168.40 168.40 0 0 1 1045.05 468.20L1033.60 454.57A150.60 150.60 0 0 0 1067.22 414.50ZM1006.54 422.32L1008.15 424.23A111.00 111.00 0 0 1 974.76 443.51L973.91 441.16A108.50 108.50 0 0 0 1006.54 422.32ZM820.59 318.71L820.10 318.62A118.50 118.50 0 0 1 834.18 279.95L834.61 280.20A118.00 118.00 0 0 0 820.59 318.71ZM824.22 274.20L823.78 273.95A130.50 130.50 0 0 1 852.92 239.23L853.24 239.61A130.00 130.00 0 0 0 824.22 274.20Z" fill="#ff8000" stroke="#000" stroke-width="0.8" stroke-linejoin="round"/>
<path d="M1038.73 357.17L1043.65 358.04A108.50 108.50 0 0 1 1030.76 393.45L1026.43 390.95A103.50 103.50 0 0 0 1038.73 357.17ZM1082.64 423.40L1093.55 429.70A181.00 181.00 0 0 1 1053.14 477.85L1045.05 468.20A168.40 168.40 0 0 0 1082.64 423.40ZM1008.15 424.23L1009.11 425.38A112.50 112.50 0 0 1 975.28 444.92L974.76 443.51A111.00 111.00 0 0 0 1008.15 424.23ZM820.10 318.62L819.61 318.54A119.00 119.00 0 0 1 833.74 279.70L834.18 279.95A118.50 118.50 0 0 0 820.10 318.62ZM823.78 273.95L823.35 273.70A131.00 131.00 0 0 1 852.59 238.85L852.92 239.23A130.50 130.50 0 0 0 823.78 273.95Z" fill="#800000" stroke="#000" stroke-width="0.8" stroke-linejoin="round"/>
<circle cx="936.8" cy="339.2" r="6.6" fill="#fff" stroke="#000" stroke-width="0.9"/>
<text x="937.4" y="140.3" font-family="Liberation Sans, Arial, sans-serif" font-size="28.4" fill="#000">NORTH</text>
<text x="936.4" y="559.4" font-family="Liberation Sans, Arial, sans-serif" font-size="28.4" fill="#000">SOUTH</text>
<text x="708.6" y="367.3" font-family="Liberation Sans, Arial, sans-serif" font-size="28.4" fill="#000">WEST</text>
<text x="1088.7" y="367.2" font-family="Liberation Sans, Arial, sans-serif" font-size="28.4" fill="#000">EAST</text>
<text x="1039.1" y="207.0" font-family="Liberation Sans, Arial, sans-serif" font-size="28.4" fill="#000">20%</text>
<text x="962.7" y="284.7" font-family="Liberation Sans, Arial, sans-serif" font-size="28.4" fill="#000">10%</text>
<text x="1185.4" y="390.6" font-family="Liberation Sans, Arial, sans-serif" font-size="28.4" fill="#000">cm/s</text>
<rect x="1185.6" y="403.3" width="21.2" height="26" fill="#800000" stroke="#000" stroke-width="0.9"/>
<text x="1211.0" y="428.7" font-family="Liberation Sans, Arial, sans-serif" font-size="28.4" fill="#000">>=32</text>
<rect x="1185.6" y="435.8" width="21.2" height="26" fill="#ff8000" stroke="#000" stroke-width="0.9"/>
<text x="1211.0" y="461.2" font-family="Liberation Sans, Arial, sans-serif" font-size="28.4" fill="#000">24 - 32</text>
<rect x="1185.6" y="468.4" width="21.2" height="26" fill="#80ff80" stroke="#000" stroke-width="0.9"/>
<text x="1211.0" y="493.8" font-family="Liberation Sans, Arial, sans-serif" font-size="28.4" fill="#000">16 - 24</text>
<rect x="1185.6" y="500.9" width="21.2" height="26" fill="#008fff" stroke="#000" stroke-width="0.9"/>
<text x="1211.0" y="526.3" font-family="Liberation Sans, Arial, sans-serif" font-size="28.4" fill="#000">8 - 16</text>
<rect x="1185.6" y="533.5" width="21.2" height="26" fill="#00008f" stroke="#000" stroke-width="0.9"/>
<text x="1211.0" y="558.9" font-family="Liberation Sans, Arial, sans-serif" font-size="28.4" fill="#000">0 - 8</text>
<circle cx="936.8" cy="825.2" r="226.8" fill="none" stroke="#a6a6a6" stroke-width="1.1"/>
<circle cx="936.8" cy="825.2" r="226.8" fill="none" stroke="#5e5e5e" stroke-width="1.1" stroke-dasharray="4 5"/>
<circle cx="936.8" cy="825.2" r="116.8" fill="none" stroke="#a6a6a6" stroke-width="1.1"/>
<circle cx="936.8" cy="825.2" r="116.8" fill="none" stroke="#5e5e5e" stroke-width="1.1" stroke-dasharray="4 5"/>
<path d="M936.8 598.4000000000001V1052.0M710.0 825.2H1163.6" stroke="#b4b4b4" stroke-width="1.8" fill="none"/>
<path d="M936.80 825.20L936.80 804.90A20.30 20.30 0 0 1 943.74 806.12ZM936.80 825.20L945.11 802.37A24.30 24.30 0 0 1 952.42 806.59ZM936.80 825.20L950.94 808.35A22.00 22.00 0 0 1 955.85 814.20ZM936.80 825.20L957.58 813.20A24.00 24.00 0 0 1 960.44 821.03ZM936.80 825.20L966.64 819.94A30.30 30.30 0 0 1 966.64 830.46ZM936.80 825.20L974.81 831.90A38.60 38.60 0 0 1 970.23 844.50ZM936.80 825.20L972.05 845.55A40.70 40.70 0 0 1 962.96 856.38ZM936.80 825.20L970.10 864.88A51.80 51.80 0 0 1 954.52 873.88ZM936.80 825.20L954.24 873.12A51.00 51.00 0 0 1 936.80 876.20ZM936.80 825.20L936.80 865.20A40.00 40.00 0 0 1 923.12 862.79ZM936.80 825.20L923.80 860.91A38.00 38.00 0 0 1 912.37 854.31ZM936.80 825.20L914.30 852.01A35.00 35.00 0 0 1 906.49 842.70ZM936.80 825.20L900.60 846.10A41.80 41.80 0 0 1 895.64 832.46ZM936.80 825.20L883.82 834.54A53.80 53.80 0 0 1 883.82 815.86ZM936.80 825.20L856.74 811.08A81.30 81.30 0 0 1 866.39 784.55ZM936.80 825.20L886.31 796.05A58.30 58.30 0 0 1 899.33 780.54ZM936.80 825.20L909.35 792.49A42.70 42.70 0 0 1 922.20 785.08ZM936.80 825.20L928.59 802.65A24.00 24.00 0 0 1 936.80 801.20Z" fill="#00008f" stroke="#000" stroke-width="0.55" stroke-linejoin="round"/>
<path d="M966.64 819.94L976.59 818.18A40.40 40.40 0 0 1 976.59 832.22L966.64 830.46A30.30 30.30 0 0 0 966.64 819.94ZM974.81 831.90L1005.44 837.30A69.70 69.70 0 0 1 997.16 860.05L970.23 844.50A38.60 38.60 0 0 0 974.81 831.90ZM972.05 845.55L1034.49 881.60A112.80 112.80 0 0 1 1009.31 911.61L962.96 856.38A40.70 40.70 0 0 0 972.05 845.55ZM970.10 864.88L1004.29 905.63A105.00 105.00 0 0 1 972.71 923.87L954.52 873.88A51.80 51.80 0 0 0 970.10 864.88ZM954.24 873.12L959.89 888.63A67.50 67.50 0 0 1 936.80 892.70L936.80 876.20A51.00 51.00 0 0 0 954.24 873.12ZM936.80 865.20L936.80 871.60A46.40 46.40 0 0 1 920.93 868.80L923.12 862.79A40.00 40.00 0 0 0 936.80 865.20ZM900.60 846.10L890.21 852.10A53.80 53.80 0 0 1 883.82 834.54L895.64 832.46A41.80 41.80 0 0 0 900.60 846.10ZM883.82 834.54L868.45 837.25A69.40 69.40 0 0 1 868.45 813.15L883.82 815.86A53.80 53.80 0 0 0 883.82 834.54ZM856.74 811.08L788.09 798.98A151.00 151.00 0 0 1 806.03 749.70L866.39 784.55A81.30 81.30 0 0 0 856.74 811.08ZM886.31 796.05L809.06 751.45A147.50 147.50 0 0 1 841.99 712.21L899.33 780.54A58.30 58.30 0 0 0 886.31 796.05ZM909.35 792.49L896.11 776.71A63.30 63.30 0 0 1 915.15 765.72L922.20 785.08A42.70 42.70 0 0 0 909.35 792.49ZM928.59 802.65L925.17 793.25A34.00 34.00 0 0 1 936.80 791.20L936.80 801.20A24.00 24.00 0 0 0 928.59 802.65Z" fill="#008fff" stroke="#000" stroke-width="0.8" stroke-linejoin="round"/>
<path d="M1005.44 837.30L1020.31 839.93A84.80 84.80 0 0 1 1010.24 867.60L997.16 860.05A69.70 69.70 0 0 0 1005.44 837.30ZM1034.49 881.60L1067.74 900.80A151.20 151.20 0 0 1 1033.99 941.03L1009.31 911.61A112.80 112.80 0 0 0 1034.49 881.60ZM1004.29 905.63L1011.36 914.06A116.00 116.00 0 0 1 976.47 934.20L972.71 923.87A105.00 105.00 0 0 0 1004.29 905.63ZM788.09 798.98L785.14 798.46A154.00 154.00 0 0 1 803.43 748.20L806.03 749.70A151.00 151.00 0 0 0 788.09 798.98ZM809.06 751.45L806.90 750.20A150.00 150.00 0 0 1 840.38 710.29L841.99 712.21A147.50 147.50 0 0 0 809.06 751.45Z" fill="#80ff80" stroke="#000" stroke-width="0.8" stroke-linejoin="round"/>
<path d="M1020.31 839.93L1023.46 840.48A88.00 88.00 0 0 1 1013.01 869.20L1010.24 867.60A84.80 84.80 0 0 0 1020.31 839.93ZM1067.74 900.80L1078.40 906.95A163.50 163.50 0 0 1 1041.90 950.45L1033.99 941.03A151.20 151.20 0 0 0 1067.74 900.80ZM1011.36 914.06L1011.68 914.44A116.50 116.50 0 0 1 976.65 934.67L976.47 934.20A116.00 116.00 0 0 0 1011.36 914.06ZM785.14 798.46L784.65 798.37A154.50 154.50 0 0 1 803.00 747.95L803.43 748.20A154.00 154.00 0 0 0 785.14 798.46ZM806.90 750.20L806.64 750.05A150.30 150.30 0 0 1 840.19 710.06L840.38 710.29A150.00 150.00 0 0 0 806.90 750.20Z" fill="#ff8000" stroke="#000" stroke-width="0.8" stroke-linejoin="round"/>
<path d="M1023.46 840.48L1026.42 841.00A91.00 91.00 0 0 1 1015.61 870.70L1013.01 869.20A88.00 88.00 0 0 0 1023.46 840.48ZM1078.40 906.95L1084.72 910.60A170.80 170.80 0 0 1 1046.59 956.04L1041.90 950.45A163.50 163.50 0 0 0 1078.40 906.95ZM1011.68 914.44L1012.01 914.83A117.00 117.00 0 0 1 976.82 935.14L976.65 934.67A116.50 116.50 0 0 0 1011.68 914.44ZM784.65 798.37L784.45 798.34A154.70 154.70 0 0 1 802.83 747.85L803.00 747.95A154.50 154.50 0 0 0 784.65 798.37ZM806.64 750.05L806.38 749.90A150.60 150.60 0 0 1 840.00 709.83L840.19 710.06A150.30 150.30 0 0 0 806.64 750.05Z" fill="#800000" stroke="#000" stroke-width="0.8" stroke-linejoin="round"/>
<circle cx="936.8" cy="825.2" r="6.6" fill="#fff" stroke="#000" stroke-width="0.9"/>
<text x="937.4" y="626.3" font-family="Liberation Sans, Arial, sans-serif" font-size="28.4" fill="#000">NORTH</text>
<text x="936.4" y="1045.4" font-family="Liberation Sans, Arial, sans-serif" font-size="28.4" fill="#000">SOUTH</text>
<text x="708.6" y="853.3" font-family="Liberation Sans, Arial, sans-serif" font-size="28.4" fill="#000">WEST</text>
<text x="1088.7" y="853.2" font-family="Liberation Sans, Arial, sans-serif" font-size="28.4" fill="#000">EAST</text>
<text x="1039.1" y="693.0" font-family="Liberation Sans, Arial, sans-serif" font-size="28.4" fill="#000">20%</text>
<text x="962.7" y="770.7" font-family="Liberation Sans, Arial, sans-serif" font-size="28.4" fill="#000">10%</text>
<text x="1185.4" y="876.6" font-family="Liberation Sans, Arial, sans-serif" font-size="28.4" fill="#000">cm/s</text>
<rect x="1185.6" y="889.3" width="21.2" height="26" fill="#800000" stroke="#000" stroke-width="0.9"/>
<text x="1211.0" y="914.7" font-family="Liberation Sans, Arial, sans-serif" font-size="28.4" fill="#000">>=32</text>
<rect x="1185.6" y="921.9" width="21.2" height="26" fill="#ff8000" stroke="#000" stroke-width="0.9"/>
<text x="1211.0" y="947.2" font-family="Liberation Sans, Arial, sans-serif" font-size="28.4" fill="#000">24 - 32</text>
<rect x="1185.6" y="954.4" width="21.2" height="26" fill="#80ff80" stroke="#000" stroke-width="0.9"/>
<text x="1211.0" y="979.8" font-family="Liberation Sans, Arial, sans-serif" font-size="28.4" fill="#000">16 - 24</text>
<rect x="1185.6" y="987.0" width="21.2" height="26" fill="#008fff" stroke="#000" stroke-width="0.9"/>
<text x="1211.0" y="1012.4" font-family="Liberation Sans, Arial, sans-serif" font-size="28.4" fill="#000">8 - 16</text>
<rect x="1185.6" y="1019.5" width="21.2" height="26" fill="#00008f" stroke="#000" stroke-width="0.9"/>
<text x="1211.0" y="1044.9" font-family="Liberation Sans, Arial, sans-serif" font-size="28.4" fill="#000">0 - 8</text>
<circle cx="936.8" cy="1315.2" r="226.8" fill="none" stroke="#a6a6a6" stroke-width="1.1"/>
<circle cx="936.8" cy="1315.2" r="226.8" fill="none" stroke="#5e5e5e" stroke-width="1.1" stroke-dasharray="4 5"/>
<circle cx="936.8" cy="1315.2" r="116.8" fill="none" stroke="#a6a6a6" stroke-width="1.1"/>
<circle cx="936.8" cy="1315.2" r="116.8" fill="none" stroke="#5e5e5e" stroke-width="1.1" stroke-dasharray="4 5"/>
<path d="M936.8 1088.4V1542.0M710.0 1315.2H1163.6" stroke="#b4b4b4" stroke-width="1.8" fill="none"/>
<path d="M936.80 1315.20L936.80 1295.20A20.00 20.00 0 0 1 943.64 1296.41ZM936.80 1315.20L942.61 1299.23A17.00 17.00 0 0 1 947.73 1302.18ZM936.80 1315.20L947.73 1302.18A17.00 17.00 0 0 1 951.52 1306.70ZM936.80 1315.20L954.12 1305.20A20.00 20.00 0 0 1 956.50 1311.73ZM936.80 1315.20L963.00 1310.58A26.60 26.60 0 0 1 963.00 1319.82ZM936.80 1315.20L988.11 1324.25A52.10 52.10 0 0 1 981.92 1341.25ZM936.80 1315.20L1002.44 1353.10A75.80 75.80 0 0 1 985.52 1373.27ZM936.80 1315.20L992.72 1381.85A87.00 87.00 0 0 1 966.56 1396.95ZM936.80 1315.20L958.01 1373.46A62.00 62.00 0 0 1 936.80 1377.20ZM936.80 1315.20L936.80 1365.20A50.00 50.00 0 0 1 919.70 1362.18ZM936.80 1315.20L921.75 1356.55A44.00 44.00 0 0 1 908.52 1348.91ZM936.80 1315.20L903.38 1355.03A52.00 52.00 0 0 1 891.77 1341.20ZM936.80 1315.20L877.48 1349.45A68.50 68.50 0 0 1 869.34 1327.09ZM936.80 1315.20L837.04 1332.79A101.30 101.30 0 0 1 837.04 1297.61ZM936.80 1315.20L819.21 1294.47A119.40 119.40 0 0 1 833.40 1255.50ZM936.80 1315.20L874.45 1279.20A72.00 72.00 0 0 1 890.52 1260.04ZM936.80 1315.20L906.40 1278.97A47.30 47.30 0 0 1 920.62 1270.75ZM936.80 1315.20L926.74 1287.57A29.40 29.40 0 0 1 936.80 1285.80Z" fill="#00008f" stroke="#000" stroke-width="0.55" stroke-linejoin="round"/>
<path d="M963.00 1310.58L967.53 1309.78A31.20 31.20 0 0 1 967.53 1320.62L963.00 1319.82A26.60 26.60 0 0 0 963.00 1310.58ZM988.11 1324.25L1020.51 1329.96A85.00 85.00 0 0 1 1010.41 1357.70L981.92 1341.25A52.10 52.10 0 0 0 988.11 1324.25ZM1002.44 1353.10L1053.63 1382.65A134.90 134.90 0 0 1 1023.51 1418.54L985.52 1373.27A75.80 75.80 0 0 0 1002.44 1353.10ZM992.72 1381.85L1012.65 1405.59A118.00 118.00 0 0 1 977.16 1426.08L966.56 1396.95A87.00 87.00 0 0 0 992.72 1381.85ZM958.01 1373.46L959.89 1378.63A67.50 67.50 0 0 1 936.80 1382.70L936.80 1377.20A62.00 62.00 0 0 0 958.01 1373.46ZM837.04 1332.79L827.98 1334.39A110.50 110.50 0 0 1 827.98 1296.01L837.04 1297.61A101.30 101.30 0 0 0 837.04 1332.79ZM819.21 1294.47L778.74 1287.33A160.50 160.50 0 0 1 797.80 1234.95L833.40 1255.50A119.40 119.40 0 0 0 819.21 1294.47ZM874.45 1279.20L836.77 1257.45A115.50 115.50 0 0 1 862.56 1226.72L890.52 1260.04A72.00 72.00 0 0 0 874.45 1279.20ZM906.40 1278.97L900.48 1271.92A56.50 56.50 0 0 1 917.48 1262.11L920.62 1270.75A47.30 47.30 0 0 0 906.40 1278.97Z" fill="#008fff" stroke="#000" stroke-width="0.8" stroke-linejoin="round"/>
<path d="M1020.51 1329.96L1023.46 1330.48A88.00 88.00 0 0 1 1013.01 1359.20L1010.41 1357.70A85.00 85.00 0 0 0 1020.51 1329.96ZM1053.63 1382.65L1066.70 1390.20A150.00 150.00 0 0 1 1033.22 1430.11L1023.51 1418.54A134.90 134.90 0 0 0 1053.63 1382.65ZM1012.65 1405.59L1014.06 1407.28A120.20 120.20 0 0 1 977.91 1428.15L977.16 1426.08A118.00 118.00 0 0 0 1012.65 1405.59ZM836.77 1257.45L835.48 1256.70A117.00 117.00 0 0 1 861.59 1225.57L862.56 1226.72A115.50 115.50 0 0 0 836.77 1257.45Z" fill="#80ff80" stroke="#000" stroke-width="0.8" stroke-linejoin="round"/>
<path d="M1023.46 1330.48L1023.76 1330.53A88.30 88.30 0 0 1 1013.27 1359.35L1013.01 1359.20A88.00 88.00 0 0 0 1023.46 1330.48ZM1066.70 1390.20L1067.57 1390.70A151.00 151.00 0 0 1 1033.86 1430.87L1033.22 1430.11A150.00 150.00 0 0 0 1066.70 1390.20Z" fill="#ff8000" stroke="#000" stroke-width="0.8" stroke-linejoin="round"/>
<path d="M1067.57 1390.70L1068.44 1391.20A152.00 152.00 0 0 1 1034.50 1431.64L1033.86 1430.87A151.00 151.00 0 0 0 1067.57 1390.70Z" fill="#800000" stroke="#000" stroke-width="0.8" stroke-linejoin="round"/>
<circle cx="936.8" cy="1315.2" r="6.6" fill="#fff" stroke="#000" stroke-width="0.9"/>
<text x="937.4" y="1116.3" font-family="Liberation Sans, Arial, sans-serif" font-size="28.4" fill="#000">NORTH</text>
<text x="936.4" y="1535.4" font-family="Liberation Sans, Arial, sans-serif" font-size="28.4" fill="#000">SOUTH</text>
<text x="708.6" y="1343.3" font-family="Liberation Sans, Arial, sans-serif" font-size="28.4" fill="#000">WEST</text>
<text x="1088.7" y="1343.2" font-family="Liberation Sans, Arial, sans-serif" font-size="28.4" fill="#000">EAST</text>
<text x="1039.1" y="1183.0" font-family="Liberation Sans, Arial, sans-serif" font-size="28.4" fill="#000">20%</text>
<text x="962.7" y="1260.7" font-family="Liberation Sans, Arial, sans-serif" font-size="28.4" fill="#000">10%</text>
<text x="1185.4" y="1366.6" font-family="Liberation Sans, Arial, sans-serif" font-size="28.4" fill="#000">cm/s</text>
<rect x="1185.6" y="1379.3" width="21.2" height="26" fill="#800000" stroke="#000" stroke-width="0.9"/>
<text x="1211.0" y="1404.7" font-family="Liberation Sans, Arial, sans-serif" font-size="28.4" fill="#000">32 - 40</text>
<rect x="1185.6" y="1411.8" width="21.2" height="26" fill="#ff8000" stroke="#000" stroke-width="0.9"/>
<text x="1211.0" y="1437.2" font-family="Liberation Sans, Arial, sans-serif" font-size="28.4" fill="#000">24 - 32</text>
<rect x="1185.6" y="1444.4" width="21.2" height="26" fill="#80ff80" stroke="#000" stroke-width="0.9"/>
<text x="1211.0" y="1469.8" font-family="Liberation Sans, Arial, sans-serif" font-size="28.4" fill="#000">16 - 24</text>
<rect x="1185.6" y="1477.0" width="21.2" height="26" fill="#008fff" stroke="#000" stroke-width="0.9"/>
<text x="1211.0" y="1502.4" font-family="Liberation Sans, Arial, sans-serif" font-size="28.4" fill="#000">8 - 16</text>
<rect x="1185.6" y="1509.5" width="21.2" height="26" fill="#00008f" stroke="#000" stroke-width="0.9"/>
<text x="1211.0" y="1534.9" font-family="Liberation Sans, Arial, sans-serif" font-size="28.4" fill="#000">0 - 8</text>
<circle cx="936.8" cy="1806.1" r="226.8" fill="none" stroke="#a6a6a6" stroke-width="1.1"/>
<circle cx="936.8" cy="1806.1" r="226.8" fill="none" stroke="#5e5e5e" stroke-width="1.1" stroke-dasharray="4 5"/>
<circle cx="936.8" cy="1806.1" r="116.8" fill="none" stroke="#a6a6a6" stroke-width="1.1"/>
<circle cx="936.8" cy="1806.1" r="116.8" fill="none" stroke="#5e5e5e" stroke-width="1.1" stroke-dasharray="4 5"/>
<path d="M936.8 1579.3V2032.8999999999999M710.0 1806.1H1163.6" stroke="#b4b4b4" stroke-width="1.8" fill="none"/>
<path d="M936.80 1806.10L936.80 1785.90A20.20 20.20 0 0 1 943.71 1787.12ZM936.80 1806.10L943.98 1786.37A21.00 21.00 0 0 1 950.30 1790.01ZM936.80 1806.10L949.66 1790.78A20.00 20.00 0 0 1 954.12 1796.10ZM936.80 1806.10L955.85 1795.10A22.00 22.00 0 0 1 958.47 1802.28ZM936.80 1806.10L965.75 1800.99A29.40 29.40 0 0 1 965.75 1811.21ZM936.80 1806.10L991.56 1815.75A55.60 55.60 0 0 1 984.95 1833.90ZM936.80 1806.10L1014.92 1851.20A90.20 90.20 0 0 1 994.78 1875.20ZM936.80 1806.10L993.49 1873.67A88.20 88.20 0 0 1 966.97 1888.98ZM936.80 1806.10L962.45 1876.58A75.00 75.00 0 0 1 936.80 1881.10ZM936.80 1806.10L936.80 1864.50A58.40 58.40 0 0 1 916.83 1860.98ZM936.80 1806.10L912.52 1872.82A71.00 71.00 0 0 1 891.16 1860.49ZM936.80 1806.10L896.95 1853.59A62.00 62.00 0 0 1 883.11 1837.10ZM936.80 1806.10L878.78 1839.60A67.00 67.00 0 0 1 870.82 1817.73ZM936.80 1806.10L842.36 1822.75A95.90 95.90 0 0 1 842.36 1789.45ZM936.80 1806.10L830.05 1787.28A108.40 108.40 0 0 1 842.92 1751.90ZM936.80 1806.10L856.78 1759.90A92.40 92.40 0 0 1 877.41 1735.32ZM936.80 1806.10L900.80 1763.20A56.00 56.00 0 0 1 917.65 1753.48ZM936.80 1806.10L926.74 1778.47A29.40 29.40 0 0 1 936.80 1776.70Z" fill="#00008f" stroke="#000" stroke-width="0.55" stroke-linejoin="round"/>
<path d="M965.75 1800.99L971.07 1800.06A34.80 34.80 0 0 1 971.07 1812.14L965.75 1811.21A29.40 29.40 0 0 0 965.75 1800.99ZM991.56 1815.75L1015.09 1819.91A79.50 79.50 0 0 1 1005.65 1845.85L984.95 1833.90A55.60 55.60 0 0 0 991.56 1815.75ZM1014.92 1851.20L1057.61 1875.85A139.50 139.50 0 0 1 1026.47 1912.96L994.78 1875.20A90.20 90.20 0 0 0 1014.92 1851.20ZM993.49 1873.67L1006.99 1889.75A109.20 109.20 0 0 1 974.15 1908.71L966.97 1888.98A88.20 88.20 0 0 0 993.49 1873.67ZM962.45 1876.58L963.99 1880.81A79.50 79.50 0 0 1 936.80 1885.60L936.80 1881.10A75.00 75.00 0 0 0 962.45 1876.58ZM842.36 1822.75L837.93 1823.53A100.40 100.40 0 0 1 837.93 1788.67L842.36 1789.45A95.90 95.90 0 0 0 842.36 1822.75ZM830.05 1787.28L813.50 1784.36A125.20 125.20 0 0 1 828.37 1743.50L842.92 1751.90A108.40 108.40 0 0 0 830.05 1787.28ZM856.78 1759.90L836.51 1748.20A115.80 115.80 0 0 1 862.37 1717.39L877.41 1735.32A92.40 92.40 0 0 0 856.78 1759.90ZM900.80 1763.20L894.31 1755.46A66.10 66.10 0 0 1 914.19 1743.99L917.65 1753.48A56.00 56.00 0 0 0 900.80 1763.20Z" fill="#008fff" stroke="#000" stroke-width="0.8" stroke-linejoin="round"/>
<path d="M1015.09 1819.91L1015.68 1820.01A80.10 80.10 0 0 1 1006.17 1846.15L1005.65 1845.85A79.50 79.50 0 0 0 1015.09 1819.91ZM1057.61 1875.85L1058.48 1876.35A140.50 140.50 0 0 1 1027.11 1913.73L1026.47 1912.96A139.50 139.50 0 0 0 1057.61 1875.85Z" fill="#80ff80" stroke="#000" stroke-width="0.8" stroke-linejoin="round"/>
<circle cx="936.8" cy="1806.1" r="6.6" fill="#fff" stroke="#000" stroke-width="0.9"/>
<text x="937.4" y="1607.2" font-family="Liberation Sans, Arial, sans-serif" font-size="28.4" fill="#000">NORTH</text>
<text x="936.4" y="2026.3" font-family="Liberation Sans, Arial, sans-serif" font-size="28.4" fill="#000">SOUTH</text>
<text x="708.6" y="1834.2" font-family="Liberation Sans, Arial, sans-serif" font-size="28.4" fill="#000">WEST</text>
<text x="1088.7" y="1834.1" font-family="Liberation Sans, Arial, sans-serif" font-size="28.4" fill="#000">EAST</text>
<text x="1039.1" y="1673.9" font-family="Liberation Sans, Arial, sans-serif" font-size="28.4" fill="#000">20%</text>
<text x="962.7" y="1751.6" font-family="Liberation Sans, Arial, sans-serif" font-size="28.4" fill="#000">10%</text>
<text x="1185.4" y="1857.5" font-family="Liberation Sans, Arial, sans-serif" font-size="28.4" fill="#000">cm/s</text>
<rect x="1185.6" y="1870.2" width="21.2" height="26" fill="#800000" stroke="#000" stroke-width="0.9"/>
<text x="1211.0" y="1895.6" font-family="Liberation Sans, Arial, sans-serif" font-size="28.4" fill="#000">32 - 40</text>
<rect x="1185.6" y="1902.7" width="21.2" height="26" fill="#ff8000" stroke="#000" stroke-width="0.9"/>
<text x="1211.0" y="1928.1" font-family="Liberation Sans, Arial, sans-serif" font-size="28.4" fill="#000">24 - 32</text>
<rect x="1185.6" y="1935.3" width="21.2" height="26" fill="#80ff80" stroke="#000" stroke-width="0.9"/>
<text x="1211.0" y="1960.7" font-family="Liberation Sans, Arial, sans-serif" font-size="28.4" fill="#000">16 - 24</text>
<rect x="1185.6" y="1967.8" width="21.2" height="26" fill="#008fff" stroke="#000" stroke-width="0.9"/>
<text x="1211.0" y="1993.2" font-family="Liberation Sans, Arial, sans-serif" font-size="28.4" fill="#000">8 - 16</text>
<rect x="1185.6" y="2000.4" width="21.2" height="26" fill="#00008f" stroke="#000" stroke-width="0.9"/>
<text x="1211.0" y="2025.8" font-family="Liberation Sans, Arial, sans-serif" font-size="28.4" fill="#000">0 - 8</text>
<path d="M1472.0 96.3V506.5H1882.2" fill="none" stroke="#cfcfcf" stroke-width="1.8"/>
<text x="1462.0" y="516.0" font-family="DejaVu Sans, sans-serif" font-size="28" text-anchor="end" fill="#1a1a1a">0</text>
<text x="1462.0" y="451.1" font-family="DejaVu Sans, sans-serif" font-size="28" text-anchor="end" fill="#1a1a1a">10</text>
<text x="1462.0" y="386.2" font-family="DejaVu Sans, sans-serif" font-size="28" text-anchor="end" fill="#1a1a1a">20</text>
<text x="1462.0" y="321.3" font-family="DejaVu Sans, sans-serif" font-size="28" text-anchor="end" fill="#1a1a1a">30</text>
<text x="1462.0" y="256.4" font-family="DejaVu Sans, sans-serif" font-size="28" text-anchor="end" fill="#1a1a1a">40</text>
<text x="1462.0" y="191.5" font-family="DejaVu Sans, sans-serif" font-size="28" text-anchor="end" fill="#1a1a1a">50</text>
<text x="1462.0" y="126.6" font-family="DejaVu Sans, sans-serif" font-size="28" text-anchor="end" fill="#1a1a1a">60</text>
<text x="1472.0" y="540.8" font-family="DejaVu Sans, sans-serif" font-size="28" text-anchor="middle" fill="#1a1a1a">0</text>
<text x="1601.8" y="540.8" font-family="DejaVu Sans, sans-serif" font-size="28" text-anchor="middle" fill="#1a1a1a">20</text>
<text x="1731.6" y="540.8" font-family="DejaVu Sans, sans-serif" font-size="28" text-anchor="middle" fill="#1a1a1a">40</text>
<text x="1861.4" y="540.8" font-family="DejaVu Sans, sans-serif" font-size="28" text-anchor="middle" fill="#1a1a1a">60</text>
<path d="M1472.0 506.5h4M1472.0 441.6h4M1472.0 376.7h4M1472.0 311.8h4M1472.0 246.9h4M1472.0 182.0h4M1472.0 117.1h4M1472.0 506.5v-4M1601.8 506.5v-4M1731.6 506.5v-4M1861.4 506.5v-4" stroke="#333" stroke-width="1.8"/>
<text x="1677.8" y="575.8" font-family="DejaVu Sans, sans-serif" font-size="29.4" text-anchor="middle" fill="#1a1a1a">Measurements</text>
<text transform="translate(1417.2 301.4) rotate(-90)" x="0" y="0" font-family="DejaVu Sans, sans-serif" font-size="29.4" text-anchor="middle" fill="#1a1a1a">Model</text>
<path d="M1477.8 506.5L1882.2 102.2" stroke="#b0b0b0" stroke-width="6.5" stroke-dasharray="27 25" stroke-dashoffset="3" fill="none"/>
<path d="M1472.0 419.4H1551.6M1551.6 506.5V419.4M1472.0 358.3H1613.8M1613.8 506.5V358.3M1472.0 282.1H1670.4M1670.4 506.5V282.1" stroke="#1f77b4" stroke-width="5" stroke-dasharray="25 27" fill="none"/>
<path d="M1472.0 500.2L1800.4 170.5" stroke="#ff0000" stroke-width="7.2" stroke-dasharray="27 5 14 5" stroke-dashoffset="-1.0" fill="none"/>
<path d="M1466.4 504.6h11.2M1472.0 499.0v11.2M1467.4 503.4h11.2M1473.0 497.8v11.2M1468.4 502.2h11.2M1474.0 496.6v11.2M1469.4 501.1h11.2M1475.0 495.5v11.2M1470.4 499.9h11.2M1476.0 494.3v11.2M1471.3 498.8h11.2M1476.9 493.2v11.2M1472.3 497.6h11.2M1477.9 492.0v11.2M1473.3 496.5h11.2M1478.9 490.9v11.2M1474.3 495.3h11.2M1479.9 489.7v11.2M1475.3 494.1h11.2M1480.9 488.5v11.2M1476.3 493.0h11.2M1481.9 487.4v11.2M1477.3 491.8h11.2M1482.9 486.2v11.2M1478.3 490.7h11.2M1483.9 485.1v11.2M1479.2 489.5h11.2M1484.8 483.9v11.2M1480.2 488.4h11.2M1485.8 482.8v11.2M1481.2 487.2h11.2M1486.8 481.6v11.2M1482.2 486.0h11.2M1487.8 480.4v11.2M1483.2 484.9h11.2M1488.8 479.3v11.2M1484.2 483.7h11.2M1489.8 478.1v11.2M1485.2 482.6h11.2M1490.8 477.0v11.2M1486.2 481.4h11.2M1491.8 475.8v11.2M1487.1 480.3h11.2M1492.7 474.7v11.2M1488.1 479.1h11.2M1493.7 473.5v11.2M1489.1 477.9h11.2M1494.7 472.3v11.2M1490.2 476.9h11.2M1495.8 471.3v11.2M1491.2 475.8h11.2M1496.8 470.2v11.2M1492.3 474.7h11.2M1497.9 469.1v11.2M1493.4 473.6h11.2M1499.0 468.0v11.2M1494.4 472.5h11.2M1500.0 466.9v11.2M1495.5 471.4h11.2M1501.1 465.8v11.2M1496.5 470.3h11.2M1502.1 464.7v11.2M1497.6 469.2h11.2M1503.2 463.6v11.2M1498.7 468.1h11.2M1504.3 462.5v11.2M1499.7 467.0h11.2M1505.3 461.4v11.2M1500.8 465.9h11.2M1506.4 460.3v11.2M1501.8 464.8h11.2M1507.4 459.2v11.2M1502.9 463.7h11.2M1508.5 458.1v11.2M1504.0 462.7h11.2M1509.6 457.1v11.2M1505.0 461.6h11.2M1510.6 456.0v11.2M1506.1 460.5h11.2M1511.7 454.9v11.2M1507.1 459.4h11.2M1512.7 453.8v11.2M1508.2 458.3h11.2M1513.8 452.7v11.2M1509.3 457.2h11.2M1514.9 451.6v11.2M1510.3 456.1h11.2M1515.9 450.5v11.2M1511.4 455.0h11.2M1517.0 449.4v11.2M1512.4 453.9h11.2M1518.0 448.3v11.2M1513.5 452.8h11.2M1519.1 447.2v11.2M1514.6 451.7h11.2M1520.2 446.1v11.2M1515.6 450.6h11.2M1521.2 445.0v11.2M1516.7 449.5h11.2M1522.3 443.9v11.2M1517.8 448.5h11.2M1523.4 442.9v11.2M1518.8 447.4h11.2M1524.4 441.8v11.2M1519.9 446.3h11.2M1525.5 440.7v11.2M1520.9 445.2h11.2M1526.5 439.6v11.2M1522.0 444.1h11.2M1527.6 438.5v11.2M1523.1 443.0h11.2M1528.7 437.4v11.2M1524.1 441.9h11.2M1529.7 436.3v11.2M1525.2 440.8h11.2M1530.8 435.2v11.2M1526.2 439.7h11.2M1531.8 434.1v11.2M1527.3 438.6h11.2M1532.9 433.0v11.2M1528.4 437.5h11.2M1534.0 431.9v11.2M1529.4 436.4h11.2M1535.0 430.8v11.2M1530.5 435.3h11.2M1536.1 429.7v11.2M1531.5 434.3h11.2M1537.1 428.7v11.2M1532.6 433.2h11.2M1538.2 427.6v11.2M1533.8 432.1h11.2M1539.4 426.5v11.2M1535.0 431.0h11.2M1540.6 425.4v11.2M1536.2 429.9h11.2M1541.8 424.3v11.2M1537.4 428.9h11.2M1543.0 423.3v11.2M1538.6 427.8h11.2M1544.2 422.2v11.2M1539.8 426.7h11.2M1545.4 421.1v11.2M1541.0 425.6h11.2M1546.6 420.0v11.2M1542.2 424.6h11.2M1547.8 419.0v11.2M1543.4 423.5h11.2M1549.0 417.9v11.2M1544.6 422.4h11.2M1550.2 416.8v11.2M1545.8 421.4h11.2M1551.4 415.8v11.2M1547.0 420.3h11.2M1552.6 414.7v11.2M1548.2 419.2h11.2M1553.8 413.6v11.2M1549.2 418.1h11.2M1554.8 412.5v11.2M1550.2 416.9h11.2M1555.8 411.3v11.2M1551.2 415.7h11.2M1556.8 410.1v11.2M1552.3 414.6h11.2M1557.9 409.0v11.2M1553.3 413.4h11.2M1558.9 407.8v11.2M1554.3 412.3h11.2M1559.9 406.7v11.2M1555.3 411.1h11.2M1560.9 405.5v11.2M1556.3 409.9h11.2M1561.9 404.3v11.2M1557.4 408.8h11.2M1563.0 403.2v11.2M1558.4 407.6h11.2M1564.0 402.0v11.2M1559.4 406.5h11.2M1565.0 400.9v11.2M1560.4 405.3h11.2M1566.0 399.7v11.2M1561.4 404.1h11.2M1567.0 398.5v11.2M1562.5 403.0h11.2M1568.1 397.4v11.2M1563.6 401.9h11.2M1569.2 396.3v11.2M1564.7 400.8h11.2M1570.3 395.2v11.2M1565.8 399.7h11.2M1571.4 394.1v11.2M1566.9 398.6h11.2M1572.5 393.0v11.2M1568.0 397.6h11.2M1573.6 392.0v11.2M1569.1 396.5h11.2M1574.7 390.9v11.2M1570.3 395.4h11.2M1575.9 389.8v11.2M1571.4 394.3h11.2M1577.0 388.7v11.2M1572.5 393.2h11.2M1578.1 387.6v11.2M1573.6 392.1h11.2M1579.2 386.5v11.2M1574.7 391.0h11.2M1580.3 385.4v11.2M1575.8 389.9h11.2M1581.4 384.3v11.2M1576.9 388.9h11.2M1582.5 383.3v11.2M1578.1 387.8h11.2M1583.7 382.2v11.2M1579.2 386.7h11.2M1584.8 381.1v11.2M1580.3 385.6h11.2M1585.9 380.0v11.2M1581.4 384.5h11.2M1587.0 378.9v11.2M1582.5 383.4h11.2M1588.1 377.8v11.2M1583.6 382.3h11.2M1589.2 376.7v11.2M1584.7 381.3h11.2M1590.3 375.7v11.2M1585.9 380.2h11.2M1591.5 374.6v11.2M1587.0 379.1h11.2M1592.6 373.5v11.2M1588.1 378.0h11.2M1593.7 372.4v11.2M1589.0 376.8h11.2M1594.6 371.2v11.2M1589.9 375.6h11.2M1595.5 370.0v11.2M1590.8 374.3h11.2M1596.4 368.7v11.2M1591.7 373.1h11.2M1597.3 367.5v11.2M1592.7 371.9h11.2M1598.3 366.3v11.2M1593.6 370.7h11.2M1599.2 365.1v11.2M1594.5 369.5h11.2M1600.1 363.9v11.2M1595.4 368.3h11.2M1601.0 362.7v11.2M1596.3 367.0h11.2M1601.9 361.4v11.2M1597.2 365.8h11.2M1602.8 360.2v11.2M1598.1 364.6h11.2M1603.7 359.0v11.2M1599.0 363.4h11.2M1604.6 357.8v11.2M1600.0 362.2h11.2M1605.6 356.6v11.2M1600.9 361.0h11.2M1606.5 355.4v11.2M1601.8 359.7h11.2M1607.4 354.1v11.2M1602.7 358.5h11.2M1608.3 352.9v11.2M1603.7 357.3h11.2M1609.3 351.7v11.2M1604.6 356.1h11.2M1610.2 350.5v11.2M1605.6 354.8h11.2M1611.2 349.2v11.2M1606.6 353.6h11.2M1612.2 348.0v11.2M1607.6 352.4h11.2M1613.2 346.8v11.2M1608.5 351.1h11.2M1614.1 345.5v11.2M1609.5 349.9h11.2M1615.1 344.3v11.2M1610.5 348.7h11.2M1616.1 343.1v11.2M1611.5 347.4h11.2M1617.1 341.8v11.2M1612.4 346.2h11.2M1618.0 340.6v11.2M1613.4 345.0h11.2M1619.0 339.4v11.2M1614.4 343.7h11.2M1620.0 338.1v11.2M1615.3 342.5h11.2M1620.9 336.9v11.2M1616.3 341.3h11.2M1621.9 335.7v11.2M1617.3 340.0h11.2M1622.9 334.4v11.2M1618.3 338.8h11.2M1623.9 333.2v11.2M1619.2 337.6h11.2M1624.8 332.0v11.2M1620.2 336.3h11.2M1625.8 330.7v11.2M1621.2 335.1h11.2M1626.8 329.5v11.2M1622.2 333.9h11.2M1627.8 328.3v11.2M1623.2 332.6h11.2M1628.8 327.0v11.2M1624.1 331.4h11.2M1629.7 325.8v11.2M1625.1 330.2h11.2M1630.7 324.6v11.2M1626.1 329.0h11.2M1631.7 323.4v11.2M1627.1 327.8h11.2M1632.7 322.2v11.2M1628.1 326.5h11.2M1633.7 320.9v11.2M1629.1 325.3h11.2M1634.7 319.7v11.2M1630.1 324.1h11.2M1635.7 318.5v11.2M1631.1 322.9h11.2M1636.7 317.3v11.2M1632.1 321.6h11.2M1637.7 316.0v11.2M1633.1 320.4h11.2M1638.7 314.8v11.2M1634.1 319.2h11.2M1639.7 313.6v11.2M1635.1 318.0h11.2M1640.7 312.4v11.2M1636.1 316.8h11.2M1641.7 311.2v11.2M1637.0 315.5h11.2M1642.6 309.9v11.2M1638.0 314.3h11.2M1643.6 308.7v11.2" stroke="#000" stroke-width="2.2" fill="none"/>
<path d="M1463.8 504.6h16.4M1472.0 496.4v16.4M1467.6 500.1h16.4M1475.8 491.9v16.4M1471.4 495.7h16.4M1479.6 487.5v16.4M1475.2 491.2h16.4M1483.4 483.0v16.4M1478.9 486.8h16.4M1487.1 478.6v16.4M1482.7 482.4h16.4M1490.9 474.2v16.4M1486.5 477.9h16.4M1494.7 469.7v16.4M1490.9 473.5h16.4M1499.1 465.3v16.4M1495.2 469.0h16.4M1503.4 460.8v16.4M1499.6 464.5h16.4M1507.8 456.3v16.4M1503.9 460.0h16.4M1512.1 451.8v16.4M1508.3 455.6h16.4M1516.5 447.4v16.4M1512.6 451.1h16.4M1520.8 442.9v16.4M1517.0 446.6h16.4M1525.2 438.4v16.4M1521.3 442.1h16.4M1529.5 433.9v16.4M1525.6 437.6h16.4M1533.8 429.4v16.4M1530.0 433.2h16.4M1538.2 425.0v16.4M1535.2 428.5h16.4M1543.4 420.3v16.4M1540.4 423.9h16.4M1548.6 415.7v16.4M1545.6 419.2h16.4M1553.8 411.0v16.4M1549.1 415.2h16.4M1557.3 407.0v16.4M1552.7 411.1h16.4M1560.9 402.9v16.4M1556.3 407.0h16.4M1564.5 398.8v16.4M1559.9 403.0h16.4M1568.1 394.8v16.4M1564.1 398.8h16.4M1572.3 390.6v16.4M1568.4 394.7h16.4M1576.6 386.5v16.4M1572.7 390.5h16.4M1580.9 382.3v16.4M1576.9 386.3h16.4M1585.1 378.1v16.4M1581.2 382.2h16.4M1589.4 374.0v16.4M1585.5 378.0h16.4M1593.7 369.8v16.4M1589.1 373.1h16.4M1597.3 364.9v16.4M1592.8 368.3h16.4M1601.0 360.1v16.4M1596.4 363.4h16.4M1604.6 355.2v16.4M1600.1 358.5h16.4M1608.3 350.3v16.4M1604.0 353.6h16.4M1612.2 345.4v16.4M1607.9 348.7h16.4M1616.1 340.5v16.4M1611.8 343.7h16.4M1620.0 335.5v16.4M1615.7 338.8h16.4M1623.9 330.6v16.4M1619.6 333.9h16.4M1627.8 325.7v16.4M1623.8 328.7h16.4M1632.0 320.5v16.4M1628.0 323.5h16.4M1636.2 315.3v16.4M1632.2 318.3h16.4M1640.4 310.1v16.4" stroke="#000" stroke-width="2" fill="none"/>
<path d="M1649.8 301.7v17.6M1653.1 295.2v17.6M1653.1 290.0v17.6M1658.3 284.2v17.6M1661.5 280.9v17.6M1666.1 275.7v17.6M1669.3 271.2v17.6M1674.5 266.7v17.6M1682.9 260.2v17.6M1684.2 254.3v17.6M1691.4 249.8v17.6M1699.8 242.0v17.6M1705.0 232.3v17.6M1709.5 229.7v17.6M1716.0 209.5v17.6M1723.2 205.0v17.6M1730.3 201.8v17.6M1731.0 197.2v17.6M1736.1 178.4v17.6M1751.1 172.6v17.6M1751.1 164.8v17.6M1759.5 142.0v17.6M1773.1 121.9v17.6M1788.7 86.9v17.6" stroke="#3a3a3a" stroke-width="1.3" fill="none"/>
<path d="M1641.0 310.5h17.6M1644.3 304.0h17.6M1644.3 298.8h17.6M1649.5 293.0h17.6M1652.7 289.7h17.6M1657.3 284.5h17.6M1660.5 280.0h17.6M1665.7 275.5h17.6M1674.1 269.0h17.6M1675.4 263.1h17.6M1682.6 258.6h17.6M1691.0 250.8h17.6M1696.2 241.1h17.6M1700.7 238.5h17.6M1707.2 218.3h17.6M1714.4 213.8h17.6M1721.5 210.6h17.6M1722.2 206.0h17.6M1727.3 187.2h17.6M1742.3 181.4h17.6M1742.3 173.6h17.6M1750.7 150.8h17.6M1764.3 130.7h17.6M1779.9 95.7h17.6" stroke="#111" stroke-width="1.7" fill="none"/>
<rect x="1508.2" y="461.7" width="92.0" height="42.8" fill="#d6d6d6"/>
<text x="1554.2" y="493.7" font-family="DejaVu Sans, sans-serif" font-size="28.6" text-anchor="middle" fill="#000">75 %</text>
<rect x="1585" y="409.4" width="91.1" height="40.9" fill="#d6d6d6"/>
<text x="1630.5" y="440.5" font-family="DejaVu Sans, sans-serif" font-size="28.6" text-anchor="middle" fill="#000">95 %</text>
<rect x="1665.4" y="338.4" width="91.4" height="40.6" fill="#d6d6d6"/>
<text x="1711.1" y="369.3" font-family="DejaVu Sans, sans-serif" font-size="28.6" text-anchor="middle" fill="#000">99 %</text>
<path d="M1472.0 585.6V994.0H1880.4" fill="none" stroke="#cfcfcf" stroke-width="1.8"/>
<text x="1462.0" y="1003.5" font-family="DejaVu Sans, sans-serif" font-size="28" text-anchor="end" fill="#1a1a1a">0</text>
<text x="1462.0" y="926.0" font-family="DejaVu Sans, sans-serif" font-size="28" text-anchor="end" fill="#1a1a1a">10</text>
<text x="1462.0" y="848.5" font-family="DejaVu Sans, sans-serif" font-size="28" text-anchor="end" fill="#1a1a1a">20</text>
<text x="1462.0" y="771.0" font-family="DejaVu Sans, sans-serif" font-size="28" text-anchor="end" fill="#1a1a1a">30</text>
<text x="1462.0" y="693.5" font-family="DejaVu Sans, sans-serif" font-size="28" text-anchor="end" fill="#1a1a1a">40</text>
<text x="1462.0" y="616.0" font-family="DejaVu Sans, sans-serif" font-size="28" text-anchor="end" fill="#1a1a1a">50</text>
<text x="1472.0" y="1028.3" font-family="DejaVu Sans, sans-serif" font-size="28" text-anchor="middle" fill="#1a1a1a">0</text>
<text x="1627.0" y="1028.3" font-family="DejaVu Sans, sans-serif" font-size="28" text-anchor="middle" fill="#1a1a1a">20</text>
<text x="1782.0" y="1028.3" font-family="DejaVu Sans, sans-serif" font-size="28" text-anchor="middle" fill="#1a1a1a">40</text>
<path d="M1472.0 994.0h4M1472.0 916.5h4M1472.0 839.0h4M1472.0 761.5h4M1472.0 684.0h4M1472.0 606.5h4M1472.0 994.0v-4M1627.0 994.0v-4M1782.0 994.0v-4" stroke="#333" stroke-width="1.8"/>
<text x="1677.8" y="1063.3" font-family="DejaVu Sans, sans-serif" font-size="29.4" text-anchor="middle" fill="#1a1a1a">Measurements</text>
<text transform="translate(1417.2 789.8) rotate(-90)" x="0" y="0" font-family="DejaVu Sans, sans-serif" font-size="29.4" text-anchor="middle" fill="#1a1a1a">Model</text>
<path d="M1479.0 994.0L1864.2 608.8" stroke="#b0b0b0" stroke-width="6.5" stroke-dasharray="27 25" stroke-dashoffset="3" fill="none"/>
<path d="M1472.0 906.6H1561.9M1561.9 994.0V906.6M1472.0 842.1H1629.8M1629.8 994.0V842.1M1472.0 756.4H1702.4M1702.4 994.0V756.4" stroke="#1f77b4" stroke-width="5" stroke-dasharray="25 27" fill="none"/>
<path d="M1472.0 993.8L1868.0 622.7" stroke="#ff0000" stroke-width="7.2" stroke-dasharray="27 5 14 5" stroke-dashoffset="-3.7" fill="none"/>
<path d="M1468.4 992.5h7.2M1472.0 988.9v7.2M1469.4 991.3h7.2M1473.0 987.7v7.2M1470.5 990.2h7.2M1474.1 986.6v7.2M1471.5 989.0h7.2M1475.1 985.4v7.2M1472.5 987.9h7.2M1476.1 984.3v7.2M1473.6 986.7h7.2M1477.2 983.1v7.2M1474.6 985.6h7.2M1478.2 982.0v7.2M1475.6 984.5h7.2M1479.2 980.9v7.2M1476.7 983.3h7.2M1480.3 979.7v7.2M1477.7 982.2h7.2M1481.3 978.6v7.2M1478.7 981.0h7.2M1482.3 977.4v7.2M1479.8 979.9h7.2M1483.4 976.3v7.2M1480.8 978.8h7.2M1484.4 975.2v7.2M1481.8 977.6h7.2M1485.4 974.0v7.2M1482.9 976.5h7.2M1486.5 972.9v7.2M1483.9 975.3h7.2M1487.5 971.7v7.2M1484.9 974.2h7.2M1488.5 970.6v7.2M1486.0 973.1h7.2M1489.6 969.5v7.2M1487.0 971.9h7.2M1490.6 968.3v7.2M1488.0 970.8h7.2M1491.6 967.2v7.2M1489.1 969.6h7.2M1492.7 966.0v7.2M1490.1 968.5h7.2M1493.7 964.9v7.2M1491.1 967.3h7.2M1494.7 963.7v7.2M1492.2 966.2h7.2M1495.8 962.6v7.2M1493.2 965.1h7.2M1496.8 961.5v7.2M1494.2 963.9h7.2M1497.8 960.3v7.2M1495.3 962.8h7.2M1498.9 959.2v7.2M1496.3 961.6h7.2M1499.9 958.0v7.2M1497.3 960.5h7.2M1500.9 956.9v7.2M1498.4 959.4h7.2M1502.0 955.8v7.2M1499.4 958.2h7.2M1503.0 954.6v7.2M1500.4 957.1h7.2M1504.0 953.5v7.2M1501.5 955.9h7.2M1505.1 952.3v7.2M1502.5 954.8h7.2M1506.1 951.2v7.2M1503.5 953.7h7.2M1507.1 950.1v7.2M1504.6 952.5h7.2M1508.2 948.9v7.2M1505.6 951.4h7.2M1509.2 947.8v7.2M1506.7 950.4h7.2M1510.3 946.8v7.2M1507.8 949.4h7.2M1511.4 945.8v7.2M1509.0 948.4h7.2M1512.6 944.8v7.2M1510.1 947.4h7.2M1513.7 943.8v7.2M1511.2 946.4h7.2M1514.8 942.8v7.2M1512.3 945.3h7.2M1515.9 941.7v7.2M1513.4 944.3h7.2M1517.0 940.7v7.2M1514.6 943.3h7.2M1518.2 939.7v7.2M1515.7 942.3h7.2M1519.3 938.7v7.2M1516.8 941.3h7.2M1520.4 937.7v7.2M1517.9 940.3h7.2M1521.5 936.7v7.2M1519.0 939.3h7.2M1522.6 935.7v7.2M1520.2 938.3h7.2M1523.8 934.7v7.2M1521.3 937.3h7.2M1524.9 933.7v7.2M1522.4 936.3h7.2M1526.0 932.7v7.2M1523.5 935.3h7.2M1527.1 931.7v7.2M1524.6 934.3h7.2M1528.2 930.7v7.2M1525.8 933.3h7.2M1529.3 929.7v7.2M1526.9 932.3h7.2M1530.5 928.7v7.2M1528.0 931.3h7.2M1531.6 927.7v7.2M1529.1 930.3h7.2M1532.7 926.7v7.2M1530.2 929.3h7.2M1533.8 925.7v7.2M1531.3 928.3h7.2M1534.9 924.7v7.2M1532.5 927.3h7.2M1536.1 923.7v7.2M1533.6 926.3h7.2M1537.2 922.7v7.2M1534.7 925.3h7.2M1538.3 921.7v7.2M1535.8 924.2h7.2M1539.4 920.6v7.2M1536.9 923.2h7.2M1540.5 919.6v7.2M1538.1 922.2h7.2M1541.7 918.6v7.2M1539.2 921.2h7.2M1542.8 917.6v7.2M1540.3 920.2h7.2M1543.9 916.6v7.2M1541.4 919.2h7.2M1545.0 915.6v7.2M1542.5 918.2h7.2M1546.1 914.6v7.2M1543.6 917.2h7.2M1547.2 913.6v7.2M1544.7 916.2h7.2M1548.3 912.6v7.2M1545.9 915.2h7.2M1549.5 911.6v7.2M1547.0 914.2h7.2M1550.6 910.6v7.2M1548.1 913.1h7.2M1551.7 909.5v7.2M1549.2 912.1h7.2M1552.8 908.5v7.2M1550.3 911.1h7.2M1553.9 907.5v7.2M1551.4 910.1h7.2M1555.0 906.5v7.2M1552.6 909.1h7.2M1556.2 905.5v7.2M1553.7 908.1h7.2M1557.3 904.5v7.2M1554.8 907.1h7.2M1558.4 903.5v7.2M1555.9 906.1h7.2M1559.5 902.5v7.2M1557.0 905.1h7.2M1560.6 901.5v7.2M1558.1 904.1h7.2M1561.7 900.5v7.2M1559.3 903.0h7.2M1562.9 899.4v7.2M1560.4 902.0h7.2M1564.0 898.4v7.2M1561.5 901.0h7.2M1565.1 897.4v7.2M1562.6 900.0h7.2M1566.2 896.4v7.2M1563.7 899.0h7.2M1567.3 895.4v7.2M1564.8 898.0h7.2M1568.4 894.4v7.2M1565.9 897.0h7.2M1569.5 893.4v7.2M1567.1 896.0h7.2M1570.7 892.4v7.2M1568.2 895.0h7.2M1571.8 891.4v7.2M1569.3 894.0h7.2M1572.9 890.4v7.2M1570.4 892.9h7.2M1574.0 889.3v7.2M1571.5 891.9h7.2M1575.1 888.3v7.2M1572.6 890.9h7.2M1576.2 887.3v7.2M1573.8 889.9h7.2M1577.4 886.3v7.2M1574.9 888.8h7.2M1578.5 885.2v7.2M1576.0 887.8h7.2M1579.6 884.2v7.2M1577.1 886.7h7.2M1580.7 883.1v7.2M1578.2 885.7h7.2M1581.8 882.1v7.2M1579.3 884.6h7.2M1582.9 881.0v7.2M1580.4 883.6h7.2M1584.0 880.0v7.2M1581.5 882.6h7.2M1585.1 879.0v7.2M1582.7 881.5h7.2M1586.3 877.9v7.2M1583.8 880.5h7.2M1587.4 876.9v7.2M1584.9 879.4h7.2M1588.5 875.8v7.2M1586.0 878.4h7.2M1589.6 874.8v7.2M1587.1 877.3h7.2M1590.7 873.7v7.2M1588.2 876.3h7.2M1591.8 872.7v7.2M1589.3 875.2h7.2M1592.9 871.6v7.2M1590.5 874.2h7.2M1594.1 870.6v7.2M1591.6 873.1h7.2M1595.2 869.5v7.2M1592.7 872.1h7.2M1596.3 868.5v7.2M1593.8 871.0h7.2M1597.4 867.4v7.2M1594.9 870.0h7.2M1598.5 866.4v7.2M1596.0 869.0h7.2M1599.6 865.4v7.2M1597.1 867.9h7.2M1600.7 864.3v7.2M1598.3 866.9h7.2M1601.9 863.3v7.2M1599.4 865.8h7.2M1603.0 862.2v7.2M1600.5 864.8h7.2M1604.1 861.2v7.2M1601.6 863.7h7.2M1605.2 860.1v7.2M1602.7 862.7h7.2M1606.3 859.1v7.2M1603.8 861.6h7.2M1607.4 858.0v7.2M1604.9 860.6h7.2M1608.5 857.0v7.2M1606.1 859.5h7.2M1609.7 855.9v7.2M1607.2 858.5h7.2M1610.8 854.9v7.2M1608.3 857.4h7.2M1611.9 853.8v7.2M1609.4 856.4h7.2M1613.0 852.8v7.2M1610.5 855.4h7.2M1614.1 851.8v7.2M1611.6 854.3h7.2M1615.2 850.7v7.2M1612.7 853.3h7.2M1616.3 849.7v7.2M1613.9 852.2h7.2M1617.5 848.6v7.2M1615.0 851.2h7.2M1618.6 847.6v7.2M1616.1 850.1h7.2M1619.7 846.5v7.2M1617.2 849.1h7.2M1620.8 845.5v7.2M1618.2 847.9h7.2M1621.8 844.3v7.2M1619.2 846.7h7.2M1622.8 843.1v7.2M1620.2 845.6h7.2M1623.8 842.0v7.2M1621.2 844.4h7.2M1624.8 840.8v7.2M1622.2 843.2h7.2M1625.8 839.6v7.2M1623.2 842.0h7.2M1626.8 838.4v7.2M1624.2 840.9h7.2M1627.8 837.3v7.2M1625.2 839.7h7.2M1628.8 836.1v7.2M1626.2 838.5h7.2M1629.8 834.9v7.2M1627.2 837.3h7.2M1630.8 833.7v7.2M1628.2 836.2h7.2M1631.8 832.6v7.2M1629.2 835.0h7.2M1632.8 831.4v7.2M1630.2 833.8h7.2M1633.8 830.2v7.2M1631.2 832.6h7.2M1634.8 829.0v7.2M1632.1 831.5h7.2M1635.7 827.9v7.2M1633.1 830.3h7.2M1636.7 826.7v7.2M1634.1 829.1h7.2M1637.7 825.5v7.2M1635.1 828.0h7.2M1638.7 824.4v7.2M1636.1 826.8h7.2M1639.7 823.2v7.2M1637.1 825.6h7.2M1640.7 822.0v7.2M1638.1 824.4h7.2M1641.7 820.8v7.2M1639.1 823.3h7.2M1642.7 819.7v7.2M1640.1 822.1h7.2M1643.7 818.5v7.2M1641.1 820.9h7.2M1644.7 817.3v7.2M1642.1 819.7h7.2M1645.7 816.1v7.2M1643.1 818.6h7.2M1646.7 815.0v7.2M1644.1 817.4h7.2M1647.7 813.8v7.2M1645.1 816.2h7.2M1648.7 812.6v7.2M1646.1 815.0h7.2M1649.7 811.4v7.2M1647.1 813.9h7.2M1650.7 810.3v7.2M1648.1 812.7h7.2M1651.7 809.1v7.2M1649.1 811.5h7.2M1652.7 807.9v7.2M1650.1 810.3h7.2M1653.7 806.7v7.2M1651.1 809.2h7.2M1654.7 805.6v7.2M1652.1 808.0h7.2M1655.7 804.4v7.2M1653.2 806.9h7.2M1656.8 803.3v7.2M1654.3 805.7h7.2M1657.9 802.1v7.2M1655.5 804.6h7.2M1659.1 801.0v7.2M1656.6 803.5h7.2M1660.2 799.9v7.2M1657.7 802.4h7.2M1661.3 798.8v7.2M1658.8 801.2h7.2M1662.4 797.6v7.2M1660.0 800.1h7.2M1663.6 796.5v7.2M1661.1 799.0h7.2M1664.7 795.4v7.2M1662.2 797.9h7.2M1665.8 794.3v7.2M1663.3 796.7h7.2M1666.9 793.1v7.2" stroke="#000" stroke-width="2.2" fill="none"/>
<path d="M1464.0 992.5h16.0M1472.0 984.5v16.0M1468.1 987.9h16.0M1476.1 979.9v16.0M1472.3 983.3h16.0M1480.3 975.3v16.0M1476.4 978.8h16.0M1484.4 970.8v16.0M1480.5 974.2h16.0M1488.5 966.2v16.0M1484.7 969.6h16.0M1492.7 961.6v16.0M1488.8 965.1h16.0M1496.8 957.1v16.0M1492.9 960.5h16.0M1500.9 952.5v16.0M1497.1 955.9h16.0M1505.1 947.9v16.0M1501.2 951.4h16.0M1509.2 943.4v16.0M1505.5 947.5h16.0M1513.5 939.5v16.0M1509.8 943.6h16.0M1517.8 935.6v16.0M1514.2 939.8h16.0M1522.2 931.8v16.0M1518.5 935.9h16.0M1526.5 927.9v16.0M1522.8 932.0h16.0M1530.8 924.0v16.0M1527.1 928.1h16.0M1535.1 920.1v16.0M1531.4 924.2h16.0M1539.4 916.2v16.0M1536.0 920.1h16.0M1544.0 912.1v16.0M1540.6 915.9h16.0M1548.6 907.9v16.0M1545.2 911.8h16.0M1553.2 903.8v16.0M1549.8 907.6h16.0M1557.8 899.6v16.0M1554.4 903.4h16.0M1562.4 895.4v16.0M1559.0 899.3h16.0M1567.0 891.3v16.0M1563.6 895.1h16.0M1571.6 887.1v16.0M1568.2 890.9h16.0M1576.2 882.9v16.0M1572.7 886.7h16.0M1580.7 878.7v16.0M1577.1 882.6h16.0M1585.1 874.6v16.0M1581.6 878.4h16.0M1589.6 870.4v16.0M1586.1 874.2h16.0M1594.1 866.2v16.0M1590.5 870.0h16.0M1598.5 862.0v16.0M1595.0 865.8h16.0M1603.0 857.8v16.0M1599.4 861.6h16.0M1607.4 853.6v16.0M1603.9 857.4h16.0M1611.9 849.4v16.0M1608.3 853.3h16.0M1616.3 845.3v16.0M1612.8 849.1h16.0M1620.8 841.1v16.0M1616.7 844.5h16.0M1624.7 836.5v16.0M1620.5 839.9h16.0M1628.5 831.9v16.0M1624.4 835.4h16.0M1632.4 827.4v16.0M1628.3 830.8h16.0M1636.3 822.8v16.0M1632.2 826.3h16.0M1640.2 818.3v16.0M1636.0 821.7h16.0M1644.0 813.7v16.0M1639.9 817.1h16.0M1647.9 809.1v16.0M1643.8 812.6h16.0M1651.8 804.6v16.0M1647.7 808.0h16.0M1655.7 800.0v16.0M1651.8 803.9h16.0M1659.8 795.9v16.0M1655.9 799.7h16.0M1663.9 791.7v16.0" stroke="#000" stroke-width="2" fill="none"/>
<path d="M1673.5 779.8v17.6M1676.6 774.4v17.6M1682.8 768.2v17.6M1689.0 760.5v17.6M1697.5 748.8v17.6M1702.2 752.7v17.6M1717.7 738.8v17.6M1724.7 726.4v17.6M1725.4 720.2v17.6M1725.4 714.0v17.6M1730.8 708.5v17.6M1750.2 703.1v17.6M1756.4 691.5v17.6M1750.2 687.6v17.6M1762.6 671.3v17.6M1768.8 642.7v17.6M1774.2 634.1v17.6M1775.8 627.9v17.6M1798.3 605.5v17.6M1817.7 597.7v17.6M1830.0 579.9v17.6" stroke="#3a3a3a" stroke-width="1.3" fill="none"/>
<path d="M1664.7 788.6h17.6M1667.8 783.2h17.6M1674.0 777.0h17.6M1680.2 769.2h17.6M1688.7 757.6h17.6M1693.4 761.5h17.6M1708.9 747.5h17.6M1715.9 735.2h17.6M1716.6 729.0h17.6M1716.6 722.8h17.6M1722.0 717.3h17.6M1741.4 711.9h17.6M1747.6 700.3h17.6M1741.4 696.4h17.6M1753.8 680.1h17.6M1760.0 651.5h17.6M1765.5 642.9h17.6M1767.0 636.7h17.6M1789.5 614.2h17.6M1808.9 606.5h17.6M1821.2 588.7h17.6" stroke="#111" stroke-width="1.7" fill="none"/>
<rect x="1522.6" y="948" width="92.4" height="41.3" fill="#d6d6d6"/>
<text x="1568.8" y="979.2" font-family="DejaVu Sans, sans-serif" font-size="28.6" text-anchor="middle" fill="#000">75 %</text>
<rect x="1591.5" y="895.9" width="91.4" height="40.3" fill="#d6d6d6"/>
<text x="1637.2" y="926.6" font-family="DejaVu Sans, sans-serif" font-size="28.6" text-anchor="middle" fill="#000">95 %</text>
<rect x="1671.1" y="825.3" width="91.8" height="41.0" fill="#d6d6d6"/>
<text x="1717.0" y="856.4" font-family="DejaVu Sans, sans-serif" font-size="28.6" text-anchor="middle" fill="#000">99 %</text>
<path d="M1472.0 1078.1V1487.7H1881.6" fill="none" stroke="#cfcfcf" stroke-width="1.8"/>
<text x="1462.0" y="1497.2" font-family="DejaVu Sans, sans-serif" font-size="28" text-anchor="end" fill="#1a1a1a">0</text>
<text x="1462.0" y="1399.9" font-family="DejaVu Sans, sans-serif" font-size="28" text-anchor="end" fill="#1a1a1a">10</text>
<text x="1462.0" y="1302.6" font-family="DejaVu Sans, sans-serif" font-size="28" text-anchor="end" fill="#1a1a1a">20</text>
<text x="1462.0" y="1205.3" font-family="DejaVu Sans, sans-serif" font-size="28" text-anchor="end" fill="#1a1a1a">30</text>
<text x="1462.0" y="1108.0" font-family="DejaVu Sans, sans-serif" font-size="28" text-anchor="end" fill="#1a1a1a">40</text>
<text x="1472.0" y="1522.0" font-family="DejaVu Sans, sans-serif" font-size="28" text-anchor="middle" fill="#1a1a1a">0</text>
<text x="1569.3" y="1522.0" font-family="DejaVu Sans, sans-serif" font-size="28" text-anchor="middle" fill="#1a1a1a">10</text>
<text x="1666.6" y="1522.0" font-family="DejaVu Sans, sans-serif" font-size="28" text-anchor="middle" fill="#1a1a1a">20</text>
<text x="1763.9" y="1522.0" font-family="DejaVu Sans, sans-serif" font-size="28" text-anchor="middle" fill="#1a1a1a">30</text>
<text x="1861.2" y="1522.0" font-family="DejaVu Sans, sans-serif" font-size="28" text-anchor="middle" fill="#1a1a1a">40</text>
<path d="M1472.0 1487.7h4M1472.0 1390.4h4M1472.0 1293.1h4M1472.0 1195.8h4M1472.0 1098.5h4M1472.0 1487.7v-4M1569.3 1487.7v-4M1666.6 1487.7v-4M1763.9 1487.7v-4M1861.2 1487.7v-4" stroke="#333" stroke-width="1.8"/>
<text x="1677.8" y="1557.0" font-family="DejaVu Sans, sans-serif" font-size="29.4" text-anchor="middle" fill="#1a1a1a">Measurements</text>
<text transform="translate(1417.2 1282.9) rotate(-90)" x="0" y="0" font-family="DejaVu Sans, sans-serif" font-size="29.4" text-anchor="middle" fill="#1a1a1a">Model</text>
<path d="M1480.8 1487.7L1863.1 1105.3" stroke="#b0b0b0" stroke-width="6.5" stroke-dasharray="27 25" stroke-dashoffset="3" fill="none"/>
<path d="M1472.0 1402.7H1570.3M1570.3 1487.7V1402.7M1472.0 1341.5H1632.5M1632.5 1487.7V1341.5M1472.0 1274.3H1699.7M1699.7 1487.7V1274.3" stroke="#1f77b4" stroke-width="5" stroke-dasharray="25 27" fill="none"/>
<path d="M1472.0 1483.6L1881.6 1147.3" stroke="#ff0000" stroke-width="7.2" stroke-dasharray="27 5 14 5" stroke-dashoffset="-3.7" fill="none"/>
<path d="M1468.0 1487.7h8.0M1472.0 1483.7v8.0M1469.1 1486.6h8.0M1473.1 1482.6v8.0M1470.2 1485.6h8.0M1474.2 1481.6v8.0M1471.2 1484.5h8.0M1475.2 1480.5v8.0M1472.3 1483.5h8.0M1476.3 1479.5v8.0M1473.4 1482.4h8.0M1477.4 1478.4v8.0M1474.5 1481.4h8.0M1478.5 1477.4v8.0M1475.5 1480.3h8.0M1479.5 1476.3v8.0M1476.6 1479.3h8.0M1480.6 1475.3v8.0M1477.7 1478.2h8.0M1481.7 1474.2v8.0M1478.8 1477.2h8.0M1482.8 1473.2v8.0M1479.9 1476.1h8.0M1483.9 1472.1v8.0M1480.9 1475.1h8.0M1484.9 1471.1v8.0M1482.0 1474.0h8.0M1486.0 1470.0v8.0M1483.1 1473.0h8.0M1487.1 1469.0v8.0M1484.2 1471.9h8.0M1488.2 1467.9v8.0M1485.3 1470.9h8.0M1489.3 1466.9v8.0M1486.3 1469.8h8.0M1490.3 1465.8v8.0M1487.4 1468.8h8.0M1491.4 1464.8v8.0M1488.5 1467.7h8.0M1492.5 1463.7v8.0M1489.6 1466.7h8.0M1493.6 1462.7v8.0M1490.6 1465.6h8.0M1494.6 1461.6v8.0M1491.7 1464.6h8.0M1495.7 1460.6v8.0M1492.8 1463.5h8.0M1496.8 1459.5v8.0M1493.9 1462.5h8.0M1497.9 1458.5v8.0M1495.0 1461.4h8.0M1499.0 1457.4v8.0M1496.0 1460.4h8.0M1500.0 1456.4v8.0M1497.1 1459.3h8.0M1501.1 1455.3v8.0M1498.2 1458.2h8.0M1502.2 1454.2v8.0M1499.3 1457.2h8.0M1503.3 1453.2v8.0M1500.3 1456.1h8.0M1504.3 1452.1v8.0M1501.4 1455.1h8.0M1505.4 1451.1v8.0M1502.5 1454.0h8.0M1506.5 1450.0v8.0M1503.6 1453.0h8.0M1507.6 1449.0v8.0M1504.7 1451.9h8.0M1508.7 1447.9v8.0M1505.7 1450.9h8.0M1509.7 1446.9v8.0M1506.8 1449.8h8.0M1510.8 1445.8v8.0M1507.9 1448.8h8.0M1511.9 1444.8v8.0M1509.0 1447.7h8.0M1513.0 1443.7v8.0M1510.1 1446.7h8.0M1514.1 1442.7v8.0M1511.3 1445.7h8.0M1515.3 1441.7v8.0M1512.4 1444.6h8.0M1516.4 1440.6v8.0M1513.5 1443.6h8.0M1517.5 1439.6v8.0M1514.6 1442.6h8.0M1518.6 1438.6v8.0M1515.8 1441.5h8.0M1519.8 1437.5v8.0M1516.9 1440.5h8.0M1520.9 1436.5v8.0M1518.0 1439.5h8.0M1522.0 1435.5v8.0M1519.1 1438.4h8.0M1523.1 1434.4v8.0M1520.3 1437.4h8.0M1524.3 1433.4v8.0M1521.4 1436.4h8.0M1525.4 1432.4v8.0M1522.5 1435.3h8.0M1526.5 1431.3v8.0M1523.6 1434.3h8.0M1527.6 1430.3v8.0M1524.8 1433.3h8.0M1528.8 1429.3v8.0M1525.9 1432.2h8.0M1529.9 1428.2v8.0M1527.0 1431.2h8.0M1531.0 1427.2v8.0M1528.1 1430.2h8.0M1532.1 1426.2v8.0M1529.3 1429.1h8.0M1533.3 1425.1v8.0M1530.4 1428.1h8.0M1534.4 1424.1v8.0M1531.5 1427.1h8.0M1535.5 1423.1v8.0M1532.6 1426.0h8.0M1536.6 1422.0v8.0M1533.8 1425.0h8.0M1537.8 1421.0v8.0M1534.9 1424.0h8.0M1538.9 1420.0v8.0M1536.0 1422.9h8.0M1540.0 1418.9v8.0M1537.1 1421.9h8.0M1541.1 1417.9v8.0M1538.3 1420.9h8.0M1542.3 1416.9v8.0M1539.4 1419.8h8.0M1543.4 1415.8v8.0M1540.5 1418.8h8.0M1544.5 1414.8v8.0M1541.6 1417.8h8.0M1545.6 1413.8v8.0M1542.8 1416.7h8.0M1546.8 1412.7v8.0M1543.9 1415.7h8.0M1547.9 1411.7v8.0M1545.1 1414.7h8.0M1549.1 1410.7v8.0M1546.3 1413.8h8.0M1550.3 1409.8v8.0M1547.5 1412.8h8.0M1551.5 1408.8v8.0M1548.6 1411.8h8.0M1552.6 1407.8v8.0M1549.8 1410.8h8.0M1553.8 1406.8v8.0M1551.0 1409.9h8.0M1555.0 1405.9v8.0M1552.2 1408.9h8.0M1556.2 1404.9v8.0M1553.4 1407.9h8.0M1557.4 1403.9v8.0M1554.6 1406.9h8.0M1558.6 1402.9v8.0M1555.8 1406.0h8.0M1559.8 1402.0v8.0M1556.9 1405.0h8.0M1560.9 1401.0v8.0M1558.1 1404.0h8.0M1562.1 1400.0v8.0M1559.3 1403.0h8.0M1563.3 1399.0v8.0M1560.5 1402.1h8.0M1564.5 1398.1v8.0M1561.7 1401.1h8.0M1565.7 1397.1v8.0M1562.9 1400.1h8.0M1566.9 1396.1v8.0M1564.1 1399.2h8.0M1568.1 1395.2v8.0M1565.2 1398.2h8.0M1569.2 1394.2v8.0M1566.4 1397.2h8.0M1570.4 1393.2v8.0M1567.6 1396.2h8.0M1571.6 1392.2v8.0M1568.8 1395.3h8.0M1572.8 1391.3v8.0M1570.0 1394.3h8.0M1574.0 1390.3v8.0M1571.2 1393.3h8.0M1575.2 1389.3v8.0M1572.4 1392.3h8.0M1576.4 1388.3v8.0M1573.5 1391.4h8.0M1577.5 1387.4v8.0M1574.7 1390.4h8.0M1578.7 1386.4v8.0M1575.9 1389.4h8.0M1579.9 1385.4v8.0M1577.1 1388.5h8.0M1581.1 1384.5v8.0M1578.3 1387.5h8.0M1582.3 1383.5v8.0M1579.5 1386.5h8.0M1583.5 1382.5v8.0M1580.7 1385.5h8.0M1584.7 1381.5v8.0M1581.8 1384.6h8.0M1585.8 1380.6v8.0M1582.9 1383.5h8.0M1586.9 1379.5v8.0M1584.1 1382.5h8.0M1588.1 1378.5v8.0M1585.2 1381.4h8.0M1589.2 1377.4v8.0M1586.3 1380.4h8.0M1590.3 1376.4v8.0M1587.4 1379.4h8.0M1591.4 1375.4v8.0M1588.5 1378.3h8.0M1592.5 1374.3v8.0M1589.6 1377.3h8.0M1593.6 1373.3v8.0M1590.7 1376.2h8.0M1594.7 1372.2v8.0M1591.8 1375.2h8.0M1595.8 1371.2v8.0M1592.9 1374.2h8.0M1596.9 1370.2v8.0M1594.0 1373.1h8.0M1598.0 1369.1v8.0M1595.1 1372.1h8.0M1599.1 1368.1v8.0M1596.2 1371.0h8.0M1600.2 1367.0v8.0M1597.3 1370.0h8.0M1601.3 1366.0v8.0M1598.4 1369.0h8.0M1602.4 1365.0v8.0M1599.6 1367.9h8.0M1603.6 1363.9v8.0M1600.7 1366.9h8.0M1604.7 1362.9v8.0M1601.8 1365.8h8.0M1605.8 1361.8v8.0M1602.9 1364.8h8.0M1606.9 1360.8v8.0M1604.0 1363.8h8.0M1608.0 1359.8v8.0M1605.1 1362.7h8.0M1609.1 1358.7v8.0M1606.2 1361.7h8.0M1610.2 1357.7v8.0M1607.3 1360.6h8.0M1611.3 1356.6v8.0M1608.4 1359.6h8.0M1612.4 1355.6v8.0M1609.5 1358.6h8.0M1613.5 1354.6v8.0M1610.6 1357.5h8.0M1614.6 1353.5v8.0M1611.7 1356.5h8.0M1615.7 1352.5v8.0M1612.8 1355.4h8.0M1616.8 1351.4v8.0M1614.0 1354.4h8.0M1618.0 1350.4v8.0M1614.9 1353.2h8.0M1618.9 1349.2v8.0M1615.9 1352.1h8.0M1619.9 1348.1v8.0M1616.9 1350.9h8.0M1620.9 1346.9v8.0M1617.8 1349.8h8.0M1621.8 1345.8v8.0M1618.8 1348.6h8.0M1622.8 1344.6v8.0M1619.8 1347.5h8.0M1623.8 1343.5v8.0M1620.8 1346.3h8.0M1624.8 1342.3v8.0M1621.7 1345.2h8.0M1625.7 1341.2v8.0M1622.7 1344.0h8.0M1626.7 1340.0v8.0M1623.7 1342.8h8.0M1627.7 1338.8v8.0M1624.7 1341.7h8.0M1628.7 1337.7v8.0M1625.6 1340.5h8.0M1629.6 1336.5v8.0M1626.6 1339.4h8.0M1630.6 1335.4v8.0M1627.6 1338.2h8.0M1631.6 1334.2v8.0M1628.5 1337.1h8.0M1632.5 1333.1v8.0M1629.5 1335.9h8.0M1633.5 1331.9v8.0M1630.5 1334.8h8.0M1634.5 1330.8v8.0M1631.5 1333.6h8.0M1635.5 1329.6v8.0M1632.4 1332.4h8.0M1636.4 1328.4v8.0M1633.4 1331.3h8.0M1637.4 1327.3v8.0M1634.4 1330.1h8.0M1638.4 1326.1v8.0M1635.4 1329.0h8.0M1639.4 1325.0v8.0M1636.3 1327.8h8.0M1640.3 1323.8v8.0M1637.3 1326.7h8.0M1641.3 1322.7v8.0M1638.3 1325.5h8.0M1642.3 1321.5v8.0M1639.2 1324.4h8.0M1643.2 1320.4v8.0M1640.2 1323.2h8.0M1644.2 1319.2v8.0M1641.2 1322.0h8.0M1645.2 1318.0v8.0M1642.2 1320.9h8.0M1646.2 1316.9v8.0M1643.1 1319.7h8.0M1647.1 1315.7v8.0M1644.1 1318.6h8.0M1648.1 1314.6v8.0M1645.1 1317.4h8.0M1649.1 1313.4v8.0M1646.3 1316.5h8.0M1650.3 1312.5v8.0M1647.4 1315.5h8.0M1651.4 1311.5v8.0M1648.6 1314.5h8.0M1652.6 1310.5v8.0M1649.8 1313.5h8.0M1653.8 1309.5v8.0M1650.9 1312.6h8.0M1654.9 1308.6v8.0M1652.1 1311.6h8.0M1656.1 1307.6v8.0M1653.3 1310.6h8.0M1657.3 1306.6v8.0M1654.4 1309.6h8.0M1658.4 1305.6v8.0M1655.6 1308.7h8.0M1659.6 1304.7v8.0M1656.8 1307.7h8.0M1660.8 1303.7v8.0M1657.9 1306.7h8.0M1661.9 1302.7v8.0M1659.1 1305.7h8.0M1663.1 1301.7v8.0M1660.3 1304.8h8.0M1664.3 1300.8v8.0M1661.4 1303.8h8.0M1665.4 1299.8v8.0M1662.6 1302.8h8.0M1666.6 1298.8v8.0M1663.8 1301.9h8.0M1667.8 1297.9v8.0M1664.9 1300.9h8.0M1668.9 1296.9v8.0M1666.1 1299.9h8.0M1670.1 1295.9v8.0M1667.3 1298.9h8.0M1671.3 1294.9v8.0M1668.4 1298.0h8.0M1672.4 1294.0v8.0M1669.6 1297.0h8.0M1673.6 1293.0v8.0M1670.8 1296.0h8.0M1674.8 1292.0v8.0M1671.9 1295.0h8.0M1675.9 1291.0v8.0M1673.1 1294.1h8.0M1677.1 1290.1v8.0" stroke="#000" stroke-width="2.2" fill="none"/>
<path d="M1465.0 1487.7h14.0M1472.0 1480.7v14.0M1469.4 1483.4h14.0M1476.4 1476.4v14.0M1473.9 1479.1h14.0M1480.9 1472.1v14.0M1478.3 1474.7h14.0M1485.3 1467.7v14.0M1482.7 1470.4h14.0M1489.7 1463.4v14.0M1487.2 1466.1h14.0M1494.2 1459.1v14.0M1491.6 1461.8h14.0M1498.6 1454.8v14.0M1496.0 1457.4h14.0M1503.0 1450.4v14.0M1500.5 1453.1h14.0M1507.5 1446.1v14.0M1504.9 1448.8h14.0M1511.9 1441.8v14.0M1509.4 1444.6h14.0M1516.4 1437.6v14.0M1513.9 1440.5h14.0M1520.9 1433.5v14.0M1518.4 1436.4h14.0M1525.4 1429.4v14.0M1522.9 1432.2h14.0M1529.9 1425.2v14.0M1527.4 1428.1h14.0M1534.4 1421.1v14.0M1531.9 1424.0h14.0M1538.9 1417.0v14.0M1536.4 1419.8h14.0M1543.4 1412.8v14.0M1540.9 1415.7h14.0M1547.9 1408.7v14.0M1545.6 1411.8h14.0M1552.6 1404.8v14.0M1550.4 1407.9h14.0M1557.4 1400.9v14.0M1555.1 1404.0h14.0M1562.1 1397.0v14.0M1559.9 1400.1h14.0M1566.9 1393.1v14.0M1564.6 1396.2h14.0M1571.6 1389.2v14.0M1569.4 1392.3h14.0M1576.4 1385.3v14.0M1574.1 1388.5h14.0M1581.1 1381.5v14.0M1578.8 1384.6h14.0M1585.8 1377.6v14.0M1583.4 1380.3h14.0M1590.4 1373.3v14.0M1588.0 1375.9h14.0M1595.0 1368.9v14.0M1592.6 1371.6h14.0M1599.6 1364.6v14.0M1597.2 1367.3h14.0M1604.2 1360.3v14.0M1601.8 1363.0h14.0M1608.8 1356.0v14.0M1606.4 1358.7h14.0M1613.4 1351.7v14.0M1611.0 1354.4h14.0M1618.0 1347.4v14.0M1614.8 1349.8h14.0M1621.8 1342.8v14.0M1618.7 1345.2h14.0M1625.7 1338.2v14.0M1622.6 1340.5h14.0M1629.6 1333.5v14.0M1626.5 1335.9h14.0M1633.5 1328.9v14.0M1630.4 1331.3h14.0M1637.4 1324.3v14.0M1634.3 1326.7h14.0M1641.3 1319.7v14.0M1638.2 1322.0h14.0M1645.2 1315.0v14.0M1642.1 1317.4h14.0M1649.1 1310.4v14.0M1647.0 1313.4h14.0M1654.0 1306.4v14.0M1651.8 1309.3h14.0M1658.8 1302.3v14.0M1656.7 1305.3h14.0M1663.7 1298.3v14.0M1661.5 1301.2h14.0M1668.5 1294.2v14.0M1666.4 1297.2h14.0M1673.4 1290.2v14.0" stroke="#000" stroke-width="2" fill="none"/>
<path d="M1689.0 1272.6v17.6M1697.7 1266.8v17.6M1711.4 1257.1v17.6M1722.1 1242.5v17.6M1723.0 1248.3v17.6M1732.8 1234.7v17.6M1738.6 1210.4v17.6M1740.5 1223.0v17.6M1759.0 1210.4v17.6M1762.9 1205.5v17.6M1768.8 1197.7v17.6M1775.6 1188.9v17.6M1791.1 1180.2v17.6M1798.9 1177.3v17.6M1804.8 1172.4v17.6M1821.3 1168.5v17.6M1827.1 1148.1v17.6M1848.6 1139.3v17.6M1870.9 1099.4v17.6" stroke="#3a3a3a" stroke-width="1.3" fill="none"/>
<path d="M1680.2 1281.4h17.6M1688.9 1275.6h17.6M1702.6 1265.9h17.6M1713.3 1251.3h17.6M1714.2 1257.1h17.6M1724.0 1243.5h17.6M1729.8 1219.2h17.6M1731.7 1231.8h17.6M1750.2 1219.2h17.6M1754.1 1214.3h17.6M1760.0 1206.5h17.6M1766.8 1197.7h17.6M1782.3 1189.0h17.6M1790.1 1186.1h17.6M1796.0 1181.2h17.6M1812.5 1177.3h17.6M1818.3 1156.9h17.6M1839.8 1148.1h17.6M1862.1 1108.2h17.6" stroke="#111" stroke-width="1.7" fill="none"/>
<rect x="1528.3" y="1441.3" width="92.4" height="41.3" fill="#d6d6d6"/>
<text x="1574.5" y="1472.5" font-family="DejaVu Sans, sans-serif" font-size="28.6" text-anchor="middle" fill="#000">75 %</text>
<rect x="1597.2" y="1390.9" width="91.8" height="39.3" fill="#d6d6d6"/>
<text x="1643.1" y="1421.2" font-family="DejaVu Sans, sans-serif" font-size="28.6" text-anchor="middle" fill="#000">95 %</text>
<rect x="1677.2" y="1318.7" width="92.1" height="40.3" fill="#d6d6d6"/>
<text x="1723.2" y="1349.4" font-family="DejaVu Sans, sans-serif" font-size="28.6" text-anchor="middle" fill="#000">99 %</text>
<path d="M1472.0 1567.2V1975.6H1880.4" fill="none" stroke="#cfcfcf" stroke-width="1.8"/>
<text x="1462.0" y="1985.1" font-family="DejaVu Sans, sans-serif" font-size="28" text-anchor="end" fill="#1a1a1a">0</text>
<text x="1462.0" y="1930.3" font-family="DejaVu Sans, sans-serif" font-size="28" text-anchor="end" fill="#1a1a1a">5</text>
<text x="1462.0" y="1875.6" font-family="DejaVu Sans, sans-serif" font-size="28" text-anchor="end" fill="#1a1a1a">10</text>
<text x="1462.0" y="1820.8" font-family="DejaVu Sans, sans-serif" font-size="28" text-anchor="end" fill="#1a1a1a">15</text>
<text x="1462.0" y="1766.1" font-family="DejaVu Sans, sans-serif" font-size="28" text-anchor="end" fill="#1a1a1a">20</text>
<text x="1462.0" y="1711.3" font-family="DejaVu Sans, sans-serif" font-size="28" text-anchor="end" fill="#1a1a1a">25</text>
<text x="1462.0" y="1656.6" font-family="DejaVu Sans, sans-serif" font-size="28" text-anchor="end" fill="#1a1a1a">30</text>
<text x="1462.0" y="1601.8" font-family="DejaVu Sans, sans-serif" font-size="28" text-anchor="end" fill="#1a1a1a">35</text>
<text x="1472.0" y="2009.9" font-family="DejaVu Sans, sans-serif" font-size="28" text-anchor="middle" fill="#1a1a1a">0</text>
<text x="1581.5" y="2009.9" font-family="DejaVu Sans, sans-serif" font-size="28" text-anchor="middle" fill="#1a1a1a">10</text>
<text x="1691.0" y="2009.9" font-family="DejaVu Sans, sans-serif" font-size="28" text-anchor="middle" fill="#1a1a1a">20</text>
<text x="1800.5" y="2009.9" font-family="DejaVu Sans, sans-serif" font-size="28" text-anchor="middle" fill="#1a1a1a">30</text>
<path d="M1472.0 1975.6h4M1472.0 1920.8h4M1472.0 1866.1h4M1472.0 1811.3h4M1472.0 1756.6h4M1472.0 1701.8h4M1472.0 1647.1h4M1472.0 1592.3h4M1472.0 1975.6v-4M1581.5 1975.6v-4M1691.0 1975.6v-4M1800.5 1975.6v-4" stroke="#333" stroke-width="1.8"/>
<text x="1677.8" y="2044.9" font-family="DejaVu Sans, sans-serif" font-size="29.4" text-anchor="middle" fill="#1a1a1a">Measurements</text>
<text transform="translate(1417.2 1771.4) rotate(-90)" x="0" y="0" font-family="DejaVu Sans, sans-serif" font-size="29.4" text-anchor="middle" fill="#1a1a1a">Model</text>
<path d="M1481.9 1975.6L1868.4 1589.1" stroke="#b0b0b0" stroke-width="6.5" stroke-dasharray="27 25" stroke-dashoffset="3" fill="none"/>
<path d="M1472.0 1900.3H1573.7M1573.7 1975.6V1900.3M1472.0 1852.3H1634.2M1634.2 1975.6V1852.3M1472.0 1806.9H1711.5M1711.5 1975.6V1806.9" stroke="#1f77b4" stroke-width="5" stroke-dasharray="25 27" fill="none"/>
<path d="M1472.0 1969.6L1882.6 1672.8" stroke="#ff0000" stroke-width="7.2" stroke-dasharray="27 5 14 5" stroke-dashoffset="-3.0" fill="none"/>
<path d="M1465.8 1975.6h12.4M1472.0 1969.4v12.4M1467.0 1974.6h12.4M1473.2 1968.4v12.4M1468.2 1973.7h12.4M1474.4 1967.5v12.4M1469.4 1972.7h12.4M1475.6 1966.5v12.4M1470.6 1971.8h12.4M1476.8 1965.6v12.4M1471.8 1970.8h12.4M1478.0 1964.6v12.4M1473.0 1969.9h12.4M1479.2 1963.7v12.4M1474.2 1968.9h12.4M1480.4 1962.7v12.4M1475.4 1968.0h12.4M1481.6 1961.8v12.4M1476.6 1967.0h12.4M1482.8 1960.8v12.4M1477.8 1966.1h12.4M1484.0 1959.9v12.4M1479.0 1965.1h12.4M1485.2 1958.9v12.4M1480.2 1964.2h12.4M1486.4 1958.0v12.4M1481.4 1963.2h12.4M1487.6 1957.0v12.4M1482.6 1962.2h12.4M1488.8 1956.0v12.4M1483.8 1961.3h12.4M1490.0 1955.1v12.4M1485.0 1960.3h12.4M1491.2 1954.1v12.4M1486.2 1959.4h12.4M1492.4 1953.2v12.4M1487.4 1958.4h12.4M1493.6 1952.2v12.4M1488.6 1957.5h12.4M1494.8 1951.3v12.4M1489.8 1956.5h12.4M1496.0 1950.3v12.4M1491.0 1955.6h12.4M1497.2 1949.4v12.4M1492.2 1954.6h12.4M1498.4 1948.4v12.4M1493.4 1953.7h12.4M1499.6 1947.5v12.4M1494.6 1952.7h12.4M1500.8 1946.5v12.4M1495.8 1951.8h12.4M1502.0 1945.6v12.4M1497.0 1950.8h12.4M1503.2 1944.6v12.4M1498.2 1949.8h12.4M1504.4 1943.6v12.4M1499.4 1948.9h12.4M1505.6 1942.7v12.4M1500.6 1947.9h12.4M1506.8 1941.7v12.4M1501.8 1947.0h12.4M1508.0 1940.8v12.4M1503.0 1946.0h12.4M1509.2 1939.8v12.4M1504.2 1945.0h12.4M1510.4 1938.8v12.4M1505.3 1944.1h12.4M1511.5 1937.9v12.4M1506.5 1943.1h12.4M1512.7 1936.9v12.4M1507.6 1942.1h12.4M1513.8 1935.9v12.4M1508.8 1941.1h12.4M1515.0 1934.9v12.4M1509.9 1940.1h12.4M1516.1 1933.9v12.4M1511.1 1939.1h12.4M1517.3 1932.9v12.4M1512.2 1938.2h12.4M1518.4 1932.0v12.4M1513.4 1937.2h12.4M1519.6 1931.0v12.4M1514.5 1936.2h12.4M1520.7 1930.0v12.4M1515.7 1935.2h12.4M1521.9 1929.0v12.4M1516.8 1934.2h12.4M1523.0 1928.0v12.4M1518.0 1933.2h12.4M1524.2 1927.0v12.4M1519.1 1932.2h12.4M1525.3 1926.0v12.4M1520.3 1931.3h12.4M1526.5 1925.1v12.4M1521.4 1930.3h12.4M1527.6 1924.1v12.4M1522.6 1929.3h12.4M1528.8 1923.1v12.4M1523.7 1928.3h12.4M1529.9 1922.1v12.4M1524.9 1927.3h12.4M1531.1 1921.1v12.4M1526.0 1926.3h12.4M1532.2 1920.1v12.4M1527.2 1925.3h12.4M1533.4 1919.1v12.4M1528.3 1924.4h12.4M1534.5 1918.2v12.4M1529.5 1923.4h12.4M1535.7 1917.2v12.4M1530.6 1922.4h12.4M1536.8 1916.2v12.4M1531.8 1921.4h12.4M1538.0 1915.2v12.4M1532.9 1920.4h12.4M1539.1 1914.2v12.4M1534.1 1919.4h12.4M1540.3 1913.2v12.4M1535.2 1918.4h12.4M1541.4 1912.2v12.4M1536.4 1917.5h12.4M1542.6 1911.3v12.4M1537.5 1916.5h12.4M1543.7 1910.3v12.4M1538.7 1915.5h12.4M1544.9 1909.3v12.4M1539.8 1914.5h12.4M1546.0 1908.3v12.4M1541.0 1913.5h12.4M1547.2 1907.3v12.4M1542.1 1912.5h12.4M1548.3 1906.3v12.4M1543.3 1911.5h12.4M1549.5 1905.3v12.4M1544.4 1910.6h12.4M1550.6 1904.4v12.4M1545.6 1909.6h12.4M1551.8 1903.4v12.4M1546.7 1908.6h12.4M1552.9 1902.4v12.4M1547.9 1907.6h12.4M1554.1 1901.4v12.4M1549.0 1906.6h12.4M1555.2 1900.4v12.4M1550.3 1905.7h12.4M1556.5 1899.5v12.4M1551.5 1904.8h12.4M1557.7 1898.6v12.4M1552.7 1903.9h12.4M1558.9 1897.7v12.4M1554.0 1903.0h12.4M1560.2 1896.8v12.4M1555.2 1902.1h12.4M1561.4 1895.9v12.4M1556.4 1901.2h12.4M1562.6 1895.0v12.4M1557.7 1900.3h12.4M1563.9 1894.1v12.4M1558.9 1899.4h12.4M1565.1 1893.2v12.4M1560.1 1898.5h12.4M1566.3 1892.3v12.4M1561.4 1897.6h12.4M1567.6 1891.4v12.4M1562.6 1896.7h12.4M1568.8 1890.5v12.4M1563.8 1895.8h12.4M1570.0 1889.6v12.4M1565.1 1894.9h12.4M1571.3 1888.7v12.4M1566.3 1894.0h12.4M1572.5 1887.8v12.4M1567.6 1893.1h12.4M1573.8 1886.9v12.4M1568.8 1892.2h12.4M1575.0 1886.0v12.4M1570.0 1891.3h12.4M1576.2 1885.1v12.4M1571.3 1890.4h12.4M1577.5 1884.2v12.4M1572.5 1889.5h12.4M1578.7 1883.3v12.4M1573.7 1888.6h12.4M1579.9 1882.4v12.4M1575.0 1887.7h12.4M1581.2 1881.5v12.4M1576.2 1886.8h12.4M1582.4 1880.6v12.4M1577.4 1886.0h12.4M1583.6 1879.8v12.4M1578.7 1885.1h12.4M1584.9 1878.9v12.4M1579.9 1884.2h12.4M1586.1 1878.0v12.4M1581.1 1883.3h12.4M1587.3 1877.1v12.4M1582.4 1882.4h12.4M1588.6 1876.2v12.4M1583.6 1881.5h12.4M1589.8 1875.3v12.4M1584.8 1880.6h12.4M1591.0 1874.4v12.4M1586.1 1879.7h12.4M1592.3 1873.5v12.4M1587.3 1878.8h12.4M1593.5 1872.6v12.4M1588.6 1877.9h12.4M1594.8 1871.7v12.4M1589.8 1877.0h12.4M1596.0 1870.8v12.4M1591.0 1876.1h12.4M1597.2 1869.9v12.4M1592.3 1875.2h12.4M1598.5 1869.0v12.4M1593.5 1874.3h12.4M1599.7 1868.1v12.4M1594.7 1873.4h12.4M1600.9 1867.2v12.4M1596.0 1872.5h12.4M1602.2 1866.3v12.4M1597.2 1871.6h12.4M1603.4 1865.4v12.4M1598.4 1870.7h12.4M1604.6 1864.5v12.4M1599.7 1869.9h12.4M1605.9 1863.7v12.4M1600.9 1869.0h12.4M1607.1 1862.8v12.4M1602.2 1868.2h12.4M1608.4 1862.0v12.4M1603.4 1867.3h12.4M1609.6 1861.1v12.4M1604.7 1866.5h12.4M1610.9 1860.3v12.4M1605.9 1865.6h12.4M1612.1 1859.4v12.4M1607.2 1864.8h12.4M1613.4 1858.6v12.4M1608.4 1863.9h12.4M1614.6 1857.7v12.4M1609.7 1863.1h12.4M1615.9 1856.9v12.4M1610.9 1862.2h12.4M1617.1 1856.0v12.4M1612.2 1861.4h12.4M1618.4 1855.2v12.4M1613.4 1860.5h12.4M1619.6 1854.3v12.4M1614.7 1859.7h12.4M1620.9 1853.5v12.4M1615.9 1858.8h12.4M1622.1 1852.6v12.4M1617.2 1857.9h12.4M1623.4 1851.7v12.4M1618.4 1857.1h12.4M1624.6 1850.9v12.4M1619.6 1856.2h12.4M1625.8 1850.0v12.4M1620.9 1855.4h12.4M1627.1 1849.2v12.4M1622.1 1854.5h12.4M1628.3 1848.3v12.4M1623.4 1853.7h12.4M1629.6 1847.5v12.4M1624.6 1852.8h12.4M1630.8 1846.6v12.4M1625.9 1852.0h12.4M1632.1 1845.8v12.4M1627.1 1851.1h12.4M1633.3 1844.9v12.4M1628.4 1850.3h12.4M1634.6 1844.1v12.4M1629.6 1849.4h12.4M1635.8 1843.2v12.4M1630.9 1848.6h12.4M1637.1 1842.4v12.4M1632.1 1847.7h12.4M1638.3 1841.5v12.4M1633.4 1846.9h12.4M1639.6 1840.7v12.4M1634.6 1846.0h12.4M1640.8 1839.8v12.4M1635.9 1845.2h12.4M1642.1 1839.0v12.4M1637.1 1844.3h12.4M1643.3 1838.1v12.4M1638.4 1843.5h12.4M1644.6 1837.3v12.4M1639.6 1842.6h12.4M1645.8 1836.4v12.4M1640.8 1841.8h12.4M1647.0 1835.6v12.4M1642.1 1840.9h12.4M1648.3 1834.7v12.4M1643.5 1840.2h12.4M1649.7 1834.0v12.4M1644.9 1839.5h12.4M1651.1 1833.3v12.4M1646.2 1838.8h12.4M1652.4 1832.6v12.4M1647.6 1838.2h12.4M1653.8 1832.0v12.4M1649.0 1837.5h12.4M1655.2 1831.3v12.4M1650.4 1836.8h12.4M1656.6 1830.6v12.4M1651.7 1836.1h12.4M1657.9 1829.9v12.4M1653.1 1835.4h12.4M1659.3 1829.2v12.4M1654.5 1834.7h12.4M1660.7 1828.5v12.4M1655.9 1834.0h12.4M1662.1 1827.8v12.4M1657.3 1833.3h12.4M1663.5 1827.1v12.4M1658.6 1832.6h12.4M1664.8 1826.4v12.4M1660.0 1832.0h12.4M1666.2 1825.8v12.4M1661.4 1831.3h12.4M1667.6 1825.1v12.4M1662.8 1830.6h12.4M1669.0 1824.4v12.4M1664.2 1829.9h12.4M1670.4 1823.7v12.4M1665.5 1829.2h12.4M1671.7 1823.0v12.4M1666.9 1828.5h12.4M1673.1 1822.3v12.4M1668.3 1827.8h12.4M1674.5 1821.6v12.4M1669.7 1827.1h12.4M1675.9 1820.9v12.4M1671.1 1826.4h12.4M1677.3 1820.2v12.4M1672.4 1825.7h12.4M1678.6 1819.5v12.4M1673.8 1825.1h12.4M1680.0 1818.9v12.4M1675.2 1824.4h12.4M1681.4 1818.2v12.4M1676.6 1823.7h12.4M1682.8 1817.5v12.4M1677.9 1823.0h12.4M1684.1 1816.8v12.4M1679.3 1822.3h12.4M1685.5 1816.1v12.4M1680.7 1821.6h12.4M1686.9 1815.4v12.4M1682.0 1820.9h12.4M1688.2 1814.7v12.4M1683.4 1820.2h12.4M1689.6 1814.0v12.4M1684.7 1819.5h12.4M1690.9 1813.3v12.4M1686.1 1818.8h12.4M1692.3 1812.6v12.4M1687.4 1818.0h12.4M1693.6 1811.8v12.4M1688.8 1817.3h12.4M1695.0 1811.1v12.4M1690.1 1816.6h12.4M1696.3 1810.4v12.4M1691.5 1815.9h12.4M1697.7 1809.7v12.4M1692.9 1815.2h12.4M1699.1 1809.0v12.4M1694.2 1814.5h12.4M1700.4 1808.3v12.4M1695.6 1813.8h12.4M1701.8 1807.6v12.4M1696.9 1813.1h12.4M1703.1 1806.9v12.4M1698.3 1812.4h12.4M1704.5 1806.2v12.4M1699.6 1811.7h12.4M1705.8 1805.5v12.4M1701.0 1811.0h12.4M1707.2 1804.8v12.4" stroke="#000" stroke-width="2.2" fill="none"/>
<path d="M1463.2 1975.6h17.6M1472.0 1966.8v17.6M1467.9 1971.9h17.6M1476.7 1963.1v17.6M1472.5 1968.2h17.6M1481.3 1959.4v17.6M1477.2 1964.5h17.6M1486.0 1955.7v17.6M1481.8 1960.8h17.6M1490.6 1952.0v17.6M1486.5 1957.1h17.6M1495.3 1948.3v17.6M1491.1 1953.4h17.6M1499.9 1944.6v17.6M1495.8 1949.7h17.6M1504.6 1940.9v17.6M1500.4 1946.0h17.6M1509.2 1937.2v17.6M1505.0 1942.1h17.6M1513.8 1933.3v17.6M1509.6 1938.2h17.6M1518.4 1929.4v17.6M1514.2 1934.2h17.6M1523.0 1925.4v17.6M1518.8 1930.3h17.6M1527.6 1921.5v17.6M1523.4 1926.3h17.6M1532.2 1917.5v17.6M1528.0 1922.4h17.6M1536.8 1913.6v17.6M1532.6 1918.4h17.6M1541.4 1909.6v17.6M1537.2 1914.5h17.6M1546.0 1905.7v17.6M1541.8 1910.6h17.6M1550.6 1901.8v17.6M1546.4 1906.6h17.6M1555.2 1897.8v17.6M1551.2 1903.1h17.6M1560.0 1894.3v17.6M1556.1 1899.6h17.6M1564.9 1890.8v17.6M1560.9 1896.1h17.6M1569.7 1887.3v17.6M1565.7 1892.6h17.6M1574.5 1883.8v17.6M1570.5 1889.1h17.6M1579.3 1880.3v17.6M1575.3 1885.6h17.6M1584.1 1876.8v17.6M1580.1 1882.1h17.6M1588.9 1873.3v17.6M1585.0 1878.6h17.6M1593.8 1869.8v17.6M1589.8 1875.1h17.6M1598.6 1866.3v17.6M1594.6 1871.6h17.6M1603.4 1862.8v17.6M1599.6 1868.2h17.6M1608.4 1859.4v17.6M1604.6 1864.8h17.6M1613.4 1856.0v17.6M1609.6 1861.4h17.6M1618.4 1852.6v17.6M1614.6 1857.9h17.6M1623.4 1849.1v17.6M1619.5 1854.5h17.6M1628.3 1845.7v17.6M1624.5 1851.1h17.6M1633.3 1842.3v17.6M1629.5 1847.7h17.6M1638.3 1838.9v17.6M1634.5 1844.3h17.6M1643.3 1835.5v17.6M1639.5 1840.9h17.6M1648.3 1832.1v17.6M1644.8 1838.3h17.6M1653.6 1829.5v17.6M1650.1 1835.6h17.6M1658.9 1826.8v17.6M1655.5 1832.9h17.6M1664.3 1824.1v17.6M1660.8 1830.3h17.6M1669.6 1821.5v17.6M1666.1 1827.6h17.6M1674.9 1818.8v17.6M1671.4 1825.0h17.6M1680.2 1816.2v17.6M1676.7 1822.3h17.6M1685.5 1813.5v17.6M1682.5 1819.3h17.6M1691.3 1810.5v17.6M1688.2 1816.3h17.6M1697.0 1807.5v17.6M1694.0 1813.3h17.6M1702.8 1804.5v17.6" stroke="#000" stroke-width="2" fill="none"/>
<path d="M1719.5 1791.6v17.6M1731.5 1786.1v17.6M1745.8 1779.6v17.6M1753.4 1776.3v17.6M1770.9 1766.4v17.6M1778.6 1763.1v17.6M1786.3 1763.1v17.6M1795.0 1753.3v17.6M1804.9 1747.8v17.6M1813.6 1737.9v17.6M1821.3 1722.6v17.6M1835.5 1717.1v17.6M1838.8 1715.0v17.6M1856.3 1675.5v17.6M1869.5 1676.6v17.6" stroke="#3a3a3a" stroke-width="1.3" fill="none"/>
<path d="M1710.7 1800.4h17.6M1722.7 1794.9h17.6M1737.0 1788.4h17.6M1744.6 1785.1h17.6M1762.1 1775.2h17.6M1769.8 1771.9h17.6M1777.5 1771.9h17.6M1786.2 1762.1h17.6M1796.1 1756.6h17.6M1804.8 1746.7h17.6M1812.5 1731.4h17.6M1826.7 1725.9h17.6M1830.0 1723.8h17.6M1847.5 1684.3h17.6M1860.7 1685.4h17.6" stroke="#111" stroke-width="1.7" fill="none"/>
<rect x="1528.3" y="1931.3" width="91.8" height="41.0" fill="#d6d6d6"/>
<text x="1574.2" y="1962.4" font-family="DejaVu Sans, sans-serif" font-size="28.6" text-anchor="middle" fill="#000">75 %</text>
<rect x="1608.3" y="1889.3" width="92.1" height="39.3" fill="#d6d6d6"/>
<text x="1654.3" y="1919.5" font-family="DejaVu Sans, sans-serif" font-size="28.6" text-anchor="middle" fill="#000">95 %</text>
<rect x="1701.4" y="1836.5" width="92.4" height="41.0" fill="#d6d6d6"/>
<text x="1747.6" y="1867.6" font-family="DejaVu Sans, sans-serif" font-size="28.6" text-anchor="middle" fill="#000">99 %</text>
<g fill="#000">
<rect x="69.5" y="0" width="1876" height="2"/>
<rect x="4" y="67.2" width="1941" height="2.2"/>
<rect x="4" y="67.2" width="2.2" height="2013.3"/>
<rect x="69.3" y="0" width="2.6" height="2080.5"/>
<rect x="692.8" y="0" width="2.4" height="2080.5"/>
<rect x="1317" y="0" width="3.4" height="2080.5"/>
<rect x="1942.2" y="0" width="3" height="2080.5"/>
<rect x="4" y="2078.1" width="1941" height="2.4"/>
</g>
<path d="M2.8 585.2H1946" stroke="#262626" stroke-width="3.6" stroke-dasharray="6 12.285"/>
<path d="M0 1073.8H1946" stroke="#111" stroke-width="2.6" stroke-dasharray="8 10.285"/>
<path d="M2.8 1564.2H1946" stroke="#262626" stroke-width="3.6" stroke-dasharray="6 12.285"/>
<text x="240.2" y="43" font-family="DejaVu Sans, sans-serif" font-size="39" fill="#000" textLength="282" lengthAdjust="spacingAndGlyphs">Measurements</text>
<text x="950.5" y="43.2" font-family="DejaVu Sans, sans-serif" font-size="39" fill="#000" textLength="113" lengthAdjust="spacingAndGlyphs">Model</text>
<text x="1433.4" y="43.5" font-family="DejaVu Sans, sans-serif" font-size="39" fill="#000" textLength="395.5" lengthAdjust="spacingAndGlyphs">Current speed (cm/s)</text>
<text transform="translate(47.3 323.8) rotate(-90)" x="0" y="0" font-family="Liberation Sans, Arial, sans-serif" font-size="42" fill="#000" text-anchor="middle">5 m depth</text>
<text transform="translate(47.3 823.7) rotate(-90)" x="0" y="0" font-family="Liberation Sans, Arial, sans-serif" font-size="42" fill="#000" text-anchor="middle">13 m depth</text>
<text transform="translate(47.3 1309.9) rotate(-90)" x="0" y="0" font-family="Liberation Sans, Arial, sans-serif" font-size="42" fill="#000" text-anchor="middle">25 m depth</text>
<text transform="translate(47.3 1808.3) rotate(-90)" x="0" y="0" font-family="Liberation Sans, Arial, sans-serif" font-size="42" fill="#000" text-anchor="middle">43 m depth</text>
</svg></body></html>
